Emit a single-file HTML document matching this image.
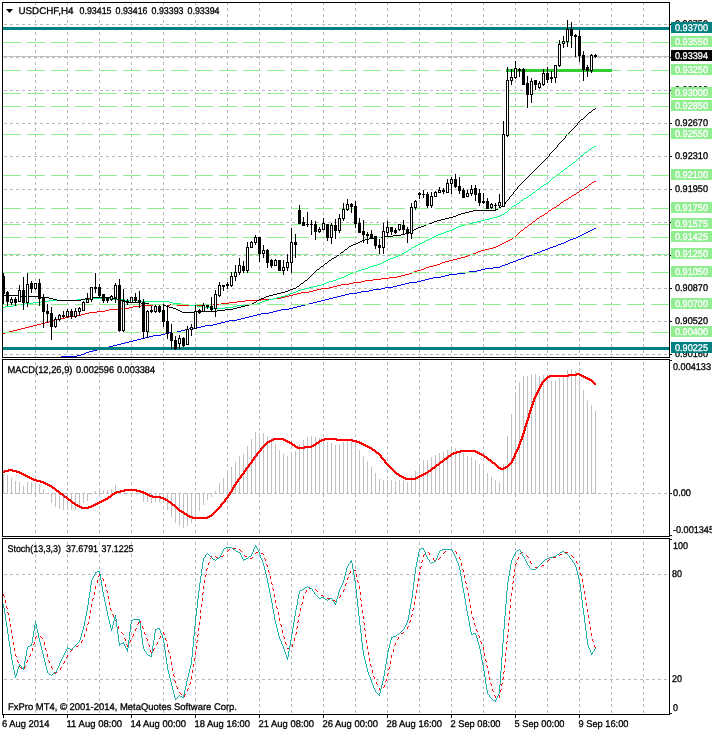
<!DOCTYPE html>
<html lang="en"><head><meta charset="utf-8"><title>USDCHF,H4</title>
<style>html,body{margin:0;padding:0;background:#fff}body{width:712px;height:732px;overflow:hidden}svg{display:block}text{font-family:"Liberation Sans",sans-serif;font-size:9.7px;white-space:pre;text-rendering:geometricPrecision;stroke-width:0.3px}</style>
</head><body>
<svg width="712" height="732" viewBox="0 0 712 732" shape-rendering="crispEdges">
<rect x="0" y="0" width="712" height="732" fill="#fff"/>
<g id="grid">
<path d="M35.5 3v2M35.5 8v3M35.5 14v3M35.5 20v3M35.5 26v3M35.5 32v3M35.5 38v3M35.5 44v3M35.5 50v3M35.5 56v3M35.5 62v3M35.5 68v3M35.5 74v3M35.5 80v3M35.5 86v3M35.5 92v3M35.5 98v3M35.5 104v3M35.5 110v3M35.5 116v3M35.5 122v3M35.5 128v3M35.5 134v3M35.5 140v3M35.5 146v3M35.5 152v3M35.5 158v3M35.5 164v3M35.5 170v3M35.5 176v3M35.5 182v3M35.5 188v3M35.5 194v3M35.5 200v3M35.5 206v3M35.5 212v3M35.5 218v3M35.5 224v3M35.5 230v3M35.5 236v3M35.5 242v3M35.5 248v3M35.5 254v3M35.5 260v3M35.5 266v3M35.5 272v3M35.5 278v3M35.5 284v3M35.5 290v3M35.5 296v3M35.5 302v3M35.5 308v3M35.5 314v3M35.5 320v3M35.5 326v3M35.5 332v3M35.5 338v3M35.5 344v3M35.5 350v3M35.5 356v1" stroke="#b8b8b8" stroke-width="1" fill="none"/>
<path d="M67.5 3v2M67.5 8v3M67.5 14v3M67.5 20v3M67.5 26v3M67.5 32v3M67.5 38v3M67.5 44v3M67.5 50v3M67.5 56v3M67.5 62v3M67.5 68v3M67.5 74v3M67.5 80v3M67.5 86v3M67.5 92v3M67.5 98v3M67.5 104v3M67.5 110v3M67.5 116v3M67.5 122v3M67.5 128v3M67.5 134v3M67.5 140v3M67.5 146v3M67.5 152v3M67.5 158v3M67.5 164v3M67.5 170v3M67.5 176v3M67.5 182v3M67.5 188v3M67.5 194v3M67.5 200v3M67.5 206v3M67.5 212v3M67.5 218v3M67.5 224v3M67.5 230v3M67.5 236v3M67.5 242v3M67.5 248v3M67.5 254v3M67.5 260v3M67.5 266v3M67.5 272v3M67.5 278v3M67.5 284v3M67.5 290v3M67.5 296v3M67.5 302v3M67.5 308v3M67.5 314v3M67.5 320v3M67.5 326v3M67.5 332v3M67.5 338v3M67.5 344v3M67.5 350v3M67.5 356v1" stroke="#b8b8b8" stroke-width="1" fill="none"/>
<path d="M99.5 3v2M99.5 8v3M99.5 14v3M99.5 20v3M99.5 26v3M99.5 32v3M99.5 38v3M99.5 44v3M99.5 50v3M99.5 56v3M99.5 62v3M99.5 68v3M99.5 74v3M99.5 80v3M99.5 86v3M99.5 92v3M99.5 98v3M99.5 104v3M99.5 110v3M99.5 116v3M99.5 122v3M99.5 128v3M99.5 134v3M99.5 140v3M99.5 146v3M99.5 152v3M99.5 158v3M99.5 164v3M99.5 170v3M99.5 176v3M99.5 182v3M99.5 188v3M99.5 194v3M99.5 200v3M99.5 206v3M99.5 212v3M99.5 218v3M99.5 224v3M99.5 230v3M99.5 236v3M99.5 242v3M99.5 248v3M99.5 254v3M99.5 260v3M99.5 266v3M99.5 272v3M99.5 278v3M99.5 284v3M99.5 290v3M99.5 296v3M99.5 302v3M99.5 308v3M99.5 314v3M99.5 320v3M99.5 326v3M99.5 332v3M99.5 338v3M99.5 344v3M99.5 350v3M99.5 356v1" stroke="#b8b8b8" stroke-width="1" fill="none"/>
<path d="M131.5 3v2M131.5 8v3M131.5 14v3M131.5 20v3M131.5 26v3M131.5 32v3M131.5 38v3M131.5 44v3M131.5 50v3M131.5 56v3M131.5 62v3M131.5 68v3M131.5 74v3M131.5 80v3M131.5 86v3M131.5 92v3M131.5 98v3M131.5 104v3M131.5 110v3M131.5 116v3M131.5 122v3M131.5 128v3M131.5 134v3M131.5 140v3M131.5 146v3M131.5 152v3M131.5 158v3M131.5 164v3M131.5 170v3M131.5 176v3M131.5 182v3M131.5 188v3M131.5 194v3M131.5 200v3M131.5 206v3M131.5 212v3M131.5 218v3M131.5 224v3M131.5 230v3M131.5 236v3M131.5 242v3M131.5 248v3M131.5 254v3M131.5 260v3M131.5 266v3M131.5 272v3M131.5 278v3M131.5 284v3M131.5 290v3M131.5 296v3M131.5 302v3M131.5 308v3M131.5 314v3M131.5 320v3M131.5 326v3M131.5 332v3M131.5 338v3M131.5 344v3M131.5 350v3M131.5 356v1" stroke="#b8b8b8" stroke-width="1" fill="none"/>
<path d="M163.5 3v2M163.5 8v3M163.5 14v3M163.5 20v3M163.5 26v3M163.5 32v3M163.5 38v3M163.5 44v3M163.5 50v3M163.5 56v3M163.5 62v3M163.5 68v3M163.5 74v3M163.5 80v3M163.5 86v3M163.5 92v3M163.5 98v3M163.5 104v3M163.5 110v3M163.5 116v3M163.5 122v3M163.5 128v3M163.5 134v3M163.5 140v3M163.5 146v3M163.5 152v3M163.5 158v3M163.5 164v3M163.5 170v3M163.5 176v3M163.5 182v3M163.5 188v3M163.5 194v3M163.5 200v3M163.5 206v3M163.5 212v3M163.5 218v3M163.5 224v3M163.5 230v3M163.5 236v3M163.5 242v3M163.5 248v3M163.5 254v3M163.5 260v3M163.5 266v3M163.5 272v3M163.5 278v3M163.5 284v3M163.5 290v3M163.5 296v3M163.5 302v3M163.5 308v3M163.5 314v3M163.5 320v3M163.5 326v3M163.5 332v3M163.5 338v3M163.5 344v3M163.5 350v3M163.5 356v1" stroke="#b8b8b8" stroke-width="1" fill="none"/>
<path d="M195.5 3v2M195.5 8v3M195.5 14v3M195.5 20v3M195.5 26v3M195.5 32v3M195.5 38v3M195.5 44v3M195.5 50v3M195.5 56v3M195.5 62v3M195.5 68v3M195.5 74v3M195.5 80v3M195.5 86v3M195.5 92v3M195.5 98v3M195.5 104v3M195.5 110v3M195.5 116v3M195.5 122v3M195.5 128v3M195.5 134v3M195.5 140v3M195.5 146v3M195.5 152v3M195.5 158v3M195.5 164v3M195.5 170v3M195.5 176v3M195.5 182v3M195.5 188v3M195.5 194v3M195.5 200v3M195.5 206v3M195.5 212v3M195.5 218v3M195.5 224v3M195.5 230v3M195.5 236v3M195.5 242v3M195.5 248v3M195.5 254v3M195.5 260v3M195.5 266v3M195.5 272v3M195.5 278v3M195.5 284v3M195.5 290v3M195.5 296v3M195.5 302v3M195.5 308v3M195.5 314v3M195.5 320v3M195.5 326v3M195.5 332v3M195.5 338v3M195.5 344v3M195.5 350v3M195.5 356v1" stroke="#b8b8b8" stroke-width="1" fill="none"/>
<path d="M227.5 3v2M227.5 8v3M227.5 14v3M227.5 20v3M227.5 26v3M227.5 32v3M227.5 38v3M227.5 44v3M227.5 50v3M227.5 56v3M227.5 62v3M227.5 68v3M227.5 74v3M227.5 80v3M227.5 86v3M227.5 92v3M227.5 98v3M227.5 104v3M227.5 110v3M227.5 116v3M227.5 122v3M227.5 128v3M227.5 134v3M227.5 140v3M227.5 146v3M227.5 152v3M227.5 158v3M227.5 164v3M227.5 170v3M227.5 176v3M227.5 182v3M227.5 188v3M227.5 194v3M227.5 200v3M227.5 206v3M227.5 212v3M227.5 218v3M227.5 224v3M227.5 230v3M227.5 236v3M227.5 242v3M227.5 248v3M227.5 254v3M227.5 260v3M227.5 266v3M227.5 272v3M227.5 278v3M227.5 284v3M227.5 290v3M227.5 296v3M227.5 302v3M227.5 308v3M227.5 314v3M227.5 320v3M227.5 326v3M227.5 332v3M227.5 338v3M227.5 344v3M227.5 350v3M227.5 356v1" stroke="#b8b8b8" stroke-width="1" fill="none"/>
<path d="M259.5 3v2M259.5 8v3M259.5 14v3M259.5 20v3M259.5 26v3M259.5 32v3M259.5 38v3M259.5 44v3M259.5 50v3M259.5 56v3M259.5 62v3M259.5 68v3M259.5 74v3M259.5 80v3M259.5 86v3M259.5 92v3M259.5 98v3M259.5 104v3M259.5 110v3M259.5 116v3M259.5 122v3M259.5 128v3M259.5 134v3M259.5 140v3M259.5 146v3M259.5 152v3M259.5 158v3M259.5 164v3M259.5 170v3M259.5 176v3M259.5 182v3M259.5 188v3M259.5 194v3M259.5 200v3M259.5 206v3M259.5 212v3M259.5 218v3M259.5 224v3M259.5 230v3M259.5 236v3M259.5 242v3M259.5 248v3M259.5 254v3M259.5 260v3M259.5 266v3M259.5 272v3M259.5 278v3M259.5 284v3M259.5 290v3M259.5 296v3M259.5 302v3M259.5 308v3M259.5 314v3M259.5 320v3M259.5 326v3M259.5 332v3M259.5 338v3M259.5 344v3M259.5 350v3M259.5 356v1" stroke="#b8b8b8" stroke-width="1" fill="none"/>
<path d="M291.5 3v2M291.5 8v3M291.5 14v3M291.5 20v3M291.5 26v3M291.5 32v3M291.5 38v3M291.5 44v3M291.5 50v3M291.5 56v3M291.5 62v3M291.5 68v3M291.5 74v3M291.5 80v3M291.5 86v3M291.5 92v3M291.5 98v3M291.5 104v3M291.5 110v3M291.5 116v3M291.5 122v3M291.5 128v3M291.5 134v3M291.5 140v3M291.5 146v3M291.5 152v3M291.5 158v3M291.5 164v3M291.5 170v3M291.5 176v3M291.5 182v3M291.5 188v3M291.5 194v3M291.5 200v3M291.5 206v3M291.5 212v3M291.5 218v3M291.5 224v3M291.5 230v3M291.5 236v3M291.5 242v3M291.5 248v3M291.5 254v3M291.5 260v3M291.5 266v3M291.5 272v3M291.5 278v3M291.5 284v3M291.5 290v3M291.5 296v3M291.5 302v3M291.5 308v3M291.5 314v3M291.5 320v3M291.5 326v3M291.5 332v3M291.5 338v3M291.5 344v3M291.5 350v3M291.5 356v1" stroke="#b8b8b8" stroke-width="1" fill="none"/>
<path d="M323.5 3v2M323.5 8v3M323.5 14v3M323.5 20v3M323.5 26v3M323.5 32v3M323.5 38v3M323.5 44v3M323.5 50v3M323.5 56v3M323.5 62v3M323.5 68v3M323.5 74v3M323.5 80v3M323.5 86v3M323.5 92v3M323.5 98v3M323.5 104v3M323.5 110v3M323.5 116v3M323.5 122v3M323.5 128v3M323.5 134v3M323.5 140v3M323.5 146v3M323.5 152v3M323.5 158v3M323.5 164v3M323.5 170v3M323.5 176v3M323.5 182v3M323.5 188v3M323.5 194v3M323.5 200v3M323.5 206v3M323.5 212v3M323.5 218v3M323.5 224v3M323.5 230v3M323.5 236v3M323.5 242v3M323.5 248v3M323.5 254v3M323.5 260v3M323.5 266v3M323.5 272v3M323.5 278v3M323.5 284v3M323.5 290v3M323.5 296v3M323.5 302v3M323.5 308v3M323.5 314v3M323.5 320v3M323.5 326v3M323.5 332v3M323.5 338v3M323.5 344v3M323.5 350v3M323.5 356v1" stroke="#b8b8b8" stroke-width="1" fill="none"/>
<path d="M355.5 3v2M355.5 8v3M355.5 14v3M355.5 20v3M355.5 26v3M355.5 32v3M355.5 38v3M355.5 44v3M355.5 50v3M355.5 56v3M355.5 62v3M355.5 68v3M355.5 74v3M355.5 80v3M355.5 86v3M355.5 92v3M355.5 98v3M355.5 104v3M355.5 110v3M355.5 116v3M355.5 122v3M355.5 128v3M355.5 134v3M355.5 140v3M355.5 146v3M355.5 152v3M355.5 158v3M355.5 164v3M355.5 170v3M355.5 176v3M355.5 182v3M355.5 188v3M355.5 194v3M355.5 200v3M355.5 206v3M355.5 212v3M355.5 218v3M355.5 224v3M355.5 230v3M355.5 236v3M355.5 242v3M355.5 248v3M355.5 254v3M355.5 260v3M355.5 266v3M355.5 272v3M355.5 278v3M355.5 284v3M355.5 290v3M355.5 296v3M355.5 302v3M355.5 308v3M355.5 314v3M355.5 320v3M355.5 326v3M355.5 332v3M355.5 338v3M355.5 344v3M355.5 350v3M355.5 356v1" stroke="#b8b8b8" stroke-width="1" fill="none"/>
<path d="M387.5 3v2M387.5 8v3M387.5 14v3M387.5 20v3M387.5 26v3M387.5 32v3M387.5 38v3M387.5 44v3M387.5 50v3M387.5 56v3M387.5 62v3M387.5 68v3M387.5 74v3M387.5 80v3M387.5 86v3M387.5 92v3M387.5 98v3M387.5 104v3M387.5 110v3M387.5 116v3M387.5 122v3M387.5 128v3M387.5 134v3M387.5 140v3M387.5 146v3M387.5 152v3M387.5 158v3M387.5 164v3M387.5 170v3M387.5 176v3M387.5 182v3M387.5 188v3M387.5 194v3M387.5 200v3M387.5 206v3M387.5 212v3M387.5 218v3M387.5 224v3M387.5 230v3M387.5 236v3M387.5 242v3M387.5 248v3M387.5 254v3M387.5 260v3M387.5 266v3M387.5 272v3M387.5 278v3M387.5 284v3M387.5 290v3M387.5 296v3M387.5 302v3M387.5 308v3M387.5 314v3M387.5 320v3M387.5 326v3M387.5 332v3M387.5 338v3M387.5 344v3M387.5 350v3M387.5 356v1" stroke="#b8b8b8" stroke-width="1" fill="none"/>
<path d="M419.5 3v2M419.5 8v3M419.5 14v3M419.5 20v3M419.5 26v3M419.5 32v3M419.5 38v3M419.5 44v3M419.5 50v3M419.5 56v3M419.5 62v3M419.5 68v3M419.5 74v3M419.5 80v3M419.5 86v3M419.5 92v3M419.5 98v3M419.5 104v3M419.5 110v3M419.5 116v3M419.5 122v3M419.5 128v3M419.5 134v3M419.5 140v3M419.5 146v3M419.5 152v3M419.5 158v3M419.5 164v3M419.5 170v3M419.5 176v3M419.5 182v3M419.5 188v3M419.5 194v3M419.5 200v3M419.5 206v3M419.5 212v3M419.5 218v3M419.5 224v3M419.5 230v3M419.5 236v3M419.5 242v3M419.5 248v3M419.5 254v3M419.5 260v3M419.5 266v3M419.5 272v3M419.5 278v3M419.5 284v3M419.5 290v3M419.5 296v3M419.5 302v3M419.5 308v3M419.5 314v3M419.5 320v3M419.5 326v3M419.5 332v3M419.5 338v3M419.5 344v3M419.5 350v3M419.5 356v1" stroke="#b8b8b8" stroke-width="1" fill="none"/>
<path d="M451.5 3v2M451.5 8v3M451.5 14v3M451.5 20v3M451.5 26v3M451.5 32v3M451.5 38v3M451.5 44v3M451.5 50v3M451.5 56v3M451.5 62v3M451.5 68v3M451.5 74v3M451.5 80v3M451.5 86v3M451.5 92v3M451.5 98v3M451.5 104v3M451.5 110v3M451.5 116v3M451.5 122v3M451.5 128v3M451.5 134v3M451.5 140v3M451.5 146v3M451.5 152v3M451.5 158v3M451.5 164v3M451.5 170v3M451.5 176v3M451.5 182v3M451.5 188v3M451.5 194v3M451.5 200v3M451.5 206v3M451.5 212v3M451.5 218v3M451.5 224v3M451.5 230v3M451.5 236v3M451.5 242v3M451.5 248v3M451.5 254v3M451.5 260v3M451.5 266v3M451.5 272v3M451.5 278v3M451.5 284v3M451.5 290v3M451.5 296v3M451.5 302v3M451.5 308v3M451.5 314v3M451.5 320v3M451.5 326v3M451.5 332v3M451.5 338v3M451.5 344v3M451.5 350v3M451.5 356v1" stroke="#b8b8b8" stroke-width="1" fill="none"/>
<path d="M483.5 3v2M483.5 8v3M483.5 14v3M483.5 20v3M483.5 26v3M483.5 32v3M483.5 38v3M483.5 44v3M483.5 50v3M483.5 56v3M483.5 62v3M483.5 68v3M483.5 74v3M483.5 80v3M483.5 86v3M483.5 92v3M483.5 98v3M483.5 104v3M483.5 110v3M483.5 116v3M483.5 122v3M483.5 128v3M483.5 134v3M483.5 140v3M483.5 146v3M483.5 152v3M483.5 158v3M483.5 164v3M483.5 170v3M483.5 176v3M483.5 182v3M483.5 188v3M483.5 194v3M483.5 200v3M483.5 206v3M483.5 212v3M483.5 218v3M483.5 224v3M483.5 230v3M483.5 236v3M483.5 242v3M483.5 248v3M483.5 254v3M483.5 260v3M483.5 266v3M483.5 272v3M483.5 278v3M483.5 284v3M483.5 290v3M483.5 296v3M483.5 302v3M483.5 308v3M483.5 314v3M483.5 320v3M483.5 326v3M483.5 332v3M483.5 338v3M483.5 344v3M483.5 350v3M483.5 356v1" stroke="#b8b8b8" stroke-width="1" fill="none"/>
<path d="M515.5 3v2M515.5 8v3M515.5 14v3M515.5 20v3M515.5 26v3M515.5 32v3M515.5 38v3M515.5 44v3M515.5 50v3M515.5 56v3M515.5 62v3M515.5 68v3M515.5 74v3M515.5 80v3M515.5 86v3M515.5 92v3M515.5 98v3M515.5 104v3M515.5 110v3M515.5 116v3M515.5 122v3M515.5 128v3M515.5 134v3M515.5 140v3M515.5 146v3M515.5 152v3M515.5 158v3M515.5 164v3M515.5 170v3M515.5 176v3M515.5 182v3M515.5 188v3M515.5 194v3M515.5 200v3M515.5 206v3M515.5 212v3M515.5 218v3M515.5 224v3M515.5 230v3M515.5 236v3M515.5 242v3M515.5 248v3M515.5 254v3M515.5 260v3M515.5 266v3M515.5 272v3M515.5 278v3M515.5 284v3M515.5 290v3M515.5 296v3M515.5 302v3M515.5 308v3M515.5 314v3M515.5 320v3M515.5 326v3M515.5 332v3M515.5 338v3M515.5 344v3M515.5 350v3M515.5 356v1" stroke="#b8b8b8" stroke-width="1" fill="none"/>
<path d="M547.5 3v2M547.5 8v3M547.5 14v3M547.5 20v3M547.5 26v3M547.5 32v3M547.5 38v3M547.5 44v3M547.5 50v3M547.5 56v3M547.5 62v3M547.5 68v3M547.5 74v3M547.5 80v3M547.5 86v3M547.5 92v3M547.5 98v3M547.5 104v3M547.5 110v3M547.5 116v3M547.5 122v3M547.5 128v3M547.5 134v3M547.5 140v3M547.5 146v3M547.5 152v3M547.5 158v3M547.5 164v3M547.5 170v3M547.5 176v3M547.5 182v3M547.5 188v3M547.5 194v3M547.5 200v3M547.5 206v3M547.5 212v3M547.5 218v3M547.5 224v3M547.5 230v3M547.5 236v3M547.5 242v3M547.5 248v3M547.5 254v3M547.5 260v3M547.5 266v3M547.5 272v3M547.5 278v3M547.5 284v3M547.5 290v3M547.5 296v3M547.5 302v3M547.5 308v3M547.5 314v3M547.5 320v3M547.5 326v3M547.5 332v3M547.5 338v3M547.5 344v3M547.5 350v3M547.5 356v1" stroke="#b8b8b8" stroke-width="1" fill="none"/>
<path d="M579.5 3v2M579.5 8v3M579.5 14v3M579.5 20v3M579.5 26v3M579.5 32v3M579.5 38v3M579.5 44v3M579.5 50v3M579.5 56v3M579.5 62v3M579.5 68v3M579.5 74v3M579.5 80v3M579.5 86v3M579.5 92v3M579.5 98v3M579.5 104v3M579.5 110v3M579.5 116v3M579.5 122v3M579.5 128v3M579.5 134v3M579.5 140v3M579.5 146v3M579.5 152v3M579.5 158v3M579.5 164v3M579.5 170v3M579.5 176v3M579.5 182v3M579.5 188v3M579.5 194v3M579.5 200v3M579.5 206v3M579.5 212v3M579.5 218v3M579.5 224v3M579.5 230v3M579.5 236v3M579.5 242v3M579.5 248v3M579.5 254v3M579.5 260v3M579.5 266v3M579.5 272v3M579.5 278v3M579.5 284v3M579.5 290v3M579.5 296v3M579.5 302v3M579.5 308v3M579.5 314v3M579.5 320v3M579.5 326v3M579.5 332v3M579.5 338v3M579.5 344v3M579.5 350v3M579.5 356v1" stroke="#b8b8b8" stroke-width="1" fill="none"/>
<path d="M611.5 3v2M611.5 8v3M611.5 14v3M611.5 20v3M611.5 26v3M611.5 32v3M611.5 38v3M611.5 44v3M611.5 50v3M611.5 56v3M611.5 62v3M611.5 68v3M611.5 74v3M611.5 80v3M611.5 86v3M611.5 92v3M611.5 98v3M611.5 104v3M611.5 110v3M611.5 116v3M611.5 122v3M611.5 128v3M611.5 134v3M611.5 140v3M611.5 146v3M611.5 152v3M611.5 158v3M611.5 164v3M611.5 170v3M611.5 176v3M611.5 182v3M611.5 188v3M611.5 194v3M611.5 200v3M611.5 206v3M611.5 212v3M611.5 218v3M611.5 224v3M611.5 230v3M611.5 236v3M611.5 242v3M611.5 248v3M611.5 254v3M611.5 260v3M611.5 266v3M611.5 272v3M611.5 278v3M611.5 284v3M611.5 290v3M611.5 296v3M611.5 302v3M611.5 308v3M611.5 314v3M611.5 320v3M611.5 326v3M611.5 332v3M611.5 338v3M611.5 344v3M611.5 350v3M611.5 356v1" stroke="#b8b8b8" stroke-width="1" fill="none"/>
<path d="M643.5 3v2M643.5 8v3M643.5 14v3M643.5 20v3M643.5 26v3M643.5 32v3M643.5 38v3M643.5 44v3M643.5 50v3M643.5 56v3M643.5 62v3M643.5 68v3M643.5 74v3M643.5 80v3M643.5 86v3M643.5 92v3M643.5 98v3M643.5 104v3M643.5 110v3M643.5 116v3M643.5 122v3M643.5 128v3M643.5 134v3M643.5 140v3M643.5 146v3M643.5 152v3M643.5 158v3M643.5 164v3M643.5 170v3M643.5 176v3M643.5 182v3M643.5 188v3M643.5 194v3M643.5 200v3M643.5 206v3M643.5 212v3M643.5 218v3M643.5 224v3M643.5 230v3M643.5 236v3M643.5 242v3M643.5 248v3M643.5 254v3M643.5 260v3M643.5 266v3M643.5 272v3M643.5 278v3M643.5 284v3M643.5 290v3M643.5 296v3M643.5 302v3M643.5 308v3M643.5 314v3M643.5 320v3M643.5 326v3M643.5 332v3M643.5 338v3M643.5 344v3M643.5 350v3M643.5 356v1" stroke="#b8b8b8" stroke-width="1" fill="none"/>
<path d="M35.5 362v3M35.5 368v3M35.5 374v3M35.5 380v3M35.5 386v3M35.5 392v3M35.5 398v3M35.5 404v3M35.5 410v3M35.5 416v3M35.5 422v3M35.5 428v3M35.5 434v3M35.5 440v3M35.5 446v3M35.5 452v3M35.5 458v3M35.5 464v3M35.5 470v3M35.5 476v3M35.5 482v3M35.5 488v3M35.5 494v3M35.5 500v3M35.5 506v3M35.5 512v3M35.5 518v3M35.5 524v3M35.5 530v3" stroke="#b8b8b8" stroke-width="1" fill="none"/>
<path d="M67.5 362v3M67.5 368v3M67.5 374v3M67.5 380v3M67.5 386v3M67.5 392v3M67.5 398v3M67.5 404v3M67.5 410v3M67.5 416v3M67.5 422v3M67.5 428v3M67.5 434v3M67.5 440v3M67.5 446v3M67.5 452v3M67.5 458v3M67.5 464v3M67.5 470v3M67.5 476v3M67.5 482v3M67.5 488v3M67.5 494v3M67.5 500v3M67.5 506v3M67.5 512v3M67.5 518v3M67.5 524v3M67.5 530v3" stroke="#b8b8b8" stroke-width="1" fill="none"/>
<path d="M99.5 362v3M99.5 368v3M99.5 374v3M99.5 380v3M99.5 386v3M99.5 392v3M99.5 398v3M99.5 404v3M99.5 410v3M99.5 416v3M99.5 422v3M99.5 428v3M99.5 434v3M99.5 440v3M99.5 446v3M99.5 452v3M99.5 458v3M99.5 464v3M99.5 470v3M99.5 476v3M99.5 482v3M99.5 488v3M99.5 494v3M99.5 500v3M99.5 506v3M99.5 512v3M99.5 518v3M99.5 524v3M99.5 530v3" stroke="#b8b8b8" stroke-width="1" fill="none"/>
<path d="M131.5 362v3M131.5 368v3M131.5 374v3M131.5 380v3M131.5 386v3M131.5 392v3M131.5 398v3M131.5 404v3M131.5 410v3M131.5 416v3M131.5 422v3M131.5 428v3M131.5 434v3M131.5 440v3M131.5 446v3M131.5 452v3M131.5 458v3M131.5 464v3M131.5 470v3M131.5 476v3M131.5 482v3M131.5 488v3M131.5 494v3M131.5 500v3M131.5 506v3M131.5 512v3M131.5 518v3M131.5 524v3M131.5 530v3" stroke="#b8b8b8" stroke-width="1" fill="none"/>
<path d="M163.5 362v3M163.5 368v3M163.5 374v3M163.5 380v3M163.5 386v3M163.5 392v3M163.5 398v3M163.5 404v3M163.5 410v3M163.5 416v3M163.5 422v3M163.5 428v3M163.5 434v3M163.5 440v3M163.5 446v3M163.5 452v3M163.5 458v3M163.5 464v3M163.5 470v3M163.5 476v3M163.5 482v3M163.5 488v3M163.5 494v3M163.5 500v3M163.5 506v3M163.5 512v3M163.5 518v3M163.5 524v3M163.5 530v3" stroke="#b8b8b8" stroke-width="1" fill="none"/>
<path d="M195.5 362v3M195.5 368v3M195.5 374v3M195.5 380v3M195.5 386v3M195.5 392v3M195.5 398v3M195.5 404v3M195.5 410v3M195.5 416v3M195.5 422v3M195.5 428v3M195.5 434v3M195.5 440v3M195.5 446v3M195.5 452v3M195.5 458v3M195.5 464v3M195.5 470v3M195.5 476v3M195.5 482v3M195.5 488v3M195.5 494v3M195.5 500v3M195.5 506v3M195.5 512v3M195.5 518v3M195.5 524v3M195.5 530v3" stroke="#b8b8b8" stroke-width="1" fill="none"/>
<path d="M227.5 362v3M227.5 368v3M227.5 374v3M227.5 380v3M227.5 386v3M227.5 392v3M227.5 398v3M227.5 404v3M227.5 410v3M227.5 416v3M227.5 422v3M227.5 428v3M227.5 434v3M227.5 440v3M227.5 446v3M227.5 452v3M227.5 458v3M227.5 464v3M227.5 470v3M227.5 476v3M227.5 482v3M227.5 488v3M227.5 494v3M227.5 500v3M227.5 506v3M227.5 512v3M227.5 518v3M227.5 524v3M227.5 530v3" stroke="#b8b8b8" stroke-width="1" fill="none"/>
<path d="M259.5 362v3M259.5 368v3M259.5 374v3M259.5 380v3M259.5 386v3M259.5 392v3M259.5 398v3M259.5 404v3M259.5 410v3M259.5 416v3M259.5 422v3M259.5 428v3M259.5 434v3M259.5 440v3M259.5 446v3M259.5 452v3M259.5 458v3M259.5 464v3M259.5 470v3M259.5 476v3M259.5 482v3M259.5 488v3M259.5 494v3M259.5 500v3M259.5 506v3M259.5 512v3M259.5 518v3M259.5 524v3M259.5 530v3" stroke="#b8b8b8" stroke-width="1" fill="none"/>
<path d="M291.5 362v3M291.5 368v3M291.5 374v3M291.5 380v3M291.5 386v3M291.5 392v3M291.5 398v3M291.5 404v3M291.5 410v3M291.5 416v3M291.5 422v3M291.5 428v3M291.5 434v3M291.5 440v3M291.5 446v3M291.5 452v3M291.5 458v3M291.5 464v3M291.5 470v3M291.5 476v3M291.5 482v3M291.5 488v3M291.5 494v3M291.5 500v3M291.5 506v3M291.5 512v3M291.5 518v3M291.5 524v3M291.5 530v3" stroke="#b8b8b8" stroke-width="1" fill="none"/>
<path d="M323.5 362v3M323.5 368v3M323.5 374v3M323.5 380v3M323.5 386v3M323.5 392v3M323.5 398v3M323.5 404v3M323.5 410v3M323.5 416v3M323.5 422v3M323.5 428v3M323.5 434v3M323.5 440v3M323.5 446v3M323.5 452v3M323.5 458v3M323.5 464v3M323.5 470v3M323.5 476v3M323.5 482v3M323.5 488v3M323.5 494v3M323.5 500v3M323.5 506v3M323.5 512v3M323.5 518v3M323.5 524v3M323.5 530v3" stroke="#b8b8b8" stroke-width="1" fill="none"/>
<path d="M355.5 362v3M355.5 368v3M355.5 374v3M355.5 380v3M355.5 386v3M355.5 392v3M355.5 398v3M355.5 404v3M355.5 410v3M355.5 416v3M355.5 422v3M355.5 428v3M355.5 434v3M355.5 440v3M355.5 446v3M355.5 452v3M355.5 458v3M355.5 464v3M355.5 470v3M355.5 476v3M355.5 482v3M355.5 488v3M355.5 494v3M355.5 500v3M355.5 506v3M355.5 512v3M355.5 518v3M355.5 524v3M355.5 530v3" stroke="#b8b8b8" stroke-width="1" fill="none"/>
<path d="M387.5 362v3M387.5 368v3M387.5 374v3M387.5 380v3M387.5 386v3M387.5 392v3M387.5 398v3M387.5 404v3M387.5 410v3M387.5 416v3M387.5 422v3M387.5 428v3M387.5 434v3M387.5 440v3M387.5 446v3M387.5 452v3M387.5 458v3M387.5 464v3M387.5 470v3M387.5 476v3M387.5 482v3M387.5 488v3M387.5 494v3M387.5 500v3M387.5 506v3M387.5 512v3M387.5 518v3M387.5 524v3M387.5 530v3" stroke="#b8b8b8" stroke-width="1" fill="none"/>
<path d="M419.5 362v3M419.5 368v3M419.5 374v3M419.5 380v3M419.5 386v3M419.5 392v3M419.5 398v3M419.5 404v3M419.5 410v3M419.5 416v3M419.5 422v3M419.5 428v3M419.5 434v3M419.5 440v3M419.5 446v3M419.5 452v3M419.5 458v3M419.5 464v3M419.5 470v3M419.5 476v3M419.5 482v3M419.5 488v3M419.5 494v3M419.5 500v3M419.5 506v3M419.5 512v3M419.5 518v3M419.5 524v3M419.5 530v3" stroke="#b8b8b8" stroke-width="1" fill="none"/>
<path d="M451.5 362v3M451.5 368v3M451.5 374v3M451.5 380v3M451.5 386v3M451.5 392v3M451.5 398v3M451.5 404v3M451.5 410v3M451.5 416v3M451.5 422v3M451.5 428v3M451.5 434v3M451.5 440v3M451.5 446v3M451.5 452v3M451.5 458v3M451.5 464v3M451.5 470v3M451.5 476v3M451.5 482v3M451.5 488v3M451.5 494v3M451.5 500v3M451.5 506v3M451.5 512v3M451.5 518v3M451.5 524v3M451.5 530v3" stroke="#b8b8b8" stroke-width="1" fill="none"/>
<path d="M483.5 362v3M483.5 368v3M483.5 374v3M483.5 380v3M483.5 386v3M483.5 392v3M483.5 398v3M483.5 404v3M483.5 410v3M483.5 416v3M483.5 422v3M483.5 428v3M483.5 434v3M483.5 440v3M483.5 446v3M483.5 452v3M483.5 458v3M483.5 464v3M483.5 470v3M483.5 476v3M483.5 482v3M483.5 488v3M483.5 494v3M483.5 500v3M483.5 506v3M483.5 512v3M483.5 518v3M483.5 524v3M483.5 530v3" stroke="#b8b8b8" stroke-width="1" fill="none"/>
<path d="M515.5 362v3M515.5 368v3M515.5 374v3M515.5 380v3M515.5 386v3M515.5 392v3M515.5 398v3M515.5 404v3M515.5 410v3M515.5 416v3M515.5 422v3M515.5 428v3M515.5 434v3M515.5 440v3M515.5 446v3M515.5 452v3M515.5 458v3M515.5 464v3M515.5 470v3M515.5 476v3M515.5 482v3M515.5 488v3M515.5 494v3M515.5 500v3M515.5 506v3M515.5 512v3M515.5 518v3M515.5 524v3M515.5 530v3" stroke="#b8b8b8" stroke-width="1" fill="none"/>
<path d="M547.5 362v3M547.5 368v3M547.5 374v3M547.5 380v3M547.5 386v3M547.5 392v3M547.5 398v3M547.5 404v3M547.5 410v3M547.5 416v3M547.5 422v3M547.5 428v3M547.5 434v3M547.5 440v3M547.5 446v3M547.5 452v3M547.5 458v3M547.5 464v3M547.5 470v3M547.5 476v3M547.5 482v3M547.5 488v3M547.5 494v3M547.5 500v3M547.5 506v3M547.5 512v3M547.5 518v3M547.5 524v3M547.5 530v3" stroke="#b8b8b8" stroke-width="1" fill="none"/>
<path d="M579.5 362v3M579.5 368v3M579.5 374v3M579.5 380v3M579.5 386v3M579.5 392v3M579.5 398v3M579.5 404v3M579.5 410v3M579.5 416v3M579.5 422v3M579.5 428v3M579.5 434v3M579.5 440v3M579.5 446v3M579.5 452v3M579.5 458v3M579.5 464v3M579.5 470v3M579.5 476v3M579.5 482v3M579.5 488v3M579.5 494v3M579.5 500v3M579.5 506v3M579.5 512v3M579.5 518v3M579.5 524v3M579.5 530v3" stroke="#b8b8b8" stroke-width="1" fill="none"/>
<path d="M611.5 362v3M611.5 368v3M611.5 374v3M611.5 380v3M611.5 386v3M611.5 392v3M611.5 398v3M611.5 404v3M611.5 410v3M611.5 416v3M611.5 422v3M611.5 428v3M611.5 434v3M611.5 440v3M611.5 446v3M611.5 452v3M611.5 458v3M611.5 464v3M611.5 470v3M611.5 476v3M611.5 482v3M611.5 488v3M611.5 494v3M611.5 500v3M611.5 506v3M611.5 512v3M611.5 518v3M611.5 524v3M611.5 530v3" stroke="#b8b8b8" stroke-width="1" fill="none"/>
<path d="M643.5 362v3M643.5 368v3M643.5 374v3M643.5 380v3M643.5 386v3M643.5 392v3M643.5 398v3M643.5 404v3M643.5 410v3M643.5 416v3M643.5 422v3M643.5 428v3M643.5 434v3M643.5 440v3M643.5 446v3M643.5 452v3M643.5 458v3M643.5 464v3M643.5 470v3M643.5 476v3M643.5 482v3M643.5 488v3M643.5 494v3M643.5 500v3M643.5 506v3M643.5 512v3M643.5 518v3M643.5 524v3M643.5 530v3" stroke="#b8b8b8" stroke-width="1" fill="none"/>
<path d="M35.5 542v3M35.5 548v3M35.5 554v3M35.5 560v3M35.5 566v3M35.5 572v3M35.5 578v3M35.5 584v3M35.5 590v3M35.5 596v3M35.5 602v3M35.5 608v3M35.5 614v3M35.5 620v3M35.5 626v3M35.5 632v3M35.5 638v3M35.5 644v3M35.5 650v3M35.5 656v3M35.5 662v3M35.5 668v3M35.5 674v3M35.5 680v3M35.5 686v3M35.5 692v3M35.5 698v3M35.5 704v3M35.5 710v3" stroke="#b8b8b8" stroke-width="1" fill="none"/>
<path d="M67.5 542v3M67.5 548v3M67.5 554v3M67.5 560v3M67.5 566v3M67.5 572v3M67.5 578v3M67.5 584v3M67.5 590v3M67.5 596v3M67.5 602v3M67.5 608v3M67.5 614v3M67.5 620v3M67.5 626v3M67.5 632v3M67.5 638v3M67.5 644v3M67.5 650v3M67.5 656v3M67.5 662v3M67.5 668v3M67.5 674v3M67.5 680v3M67.5 686v3M67.5 692v3M67.5 698v3M67.5 704v3M67.5 710v3" stroke="#b8b8b8" stroke-width="1" fill="none"/>
<path d="M99.5 542v3M99.5 548v3M99.5 554v3M99.5 560v3M99.5 566v3M99.5 572v3M99.5 578v3M99.5 584v3M99.5 590v3M99.5 596v3M99.5 602v3M99.5 608v3M99.5 614v3M99.5 620v3M99.5 626v3M99.5 632v3M99.5 638v3M99.5 644v3M99.5 650v3M99.5 656v3M99.5 662v3M99.5 668v3M99.5 674v3M99.5 680v3M99.5 686v3M99.5 692v3M99.5 698v3M99.5 704v3M99.5 710v3" stroke="#b8b8b8" stroke-width="1" fill="none"/>
<path d="M131.5 542v3M131.5 548v3M131.5 554v3M131.5 560v3M131.5 566v3M131.5 572v3M131.5 578v3M131.5 584v3M131.5 590v3M131.5 596v3M131.5 602v3M131.5 608v3M131.5 614v3M131.5 620v3M131.5 626v3M131.5 632v3M131.5 638v3M131.5 644v3M131.5 650v3M131.5 656v3M131.5 662v3M131.5 668v3M131.5 674v3M131.5 680v3M131.5 686v3M131.5 692v3M131.5 698v3M131.5 704v3M131.5 710v3" stroke="#b8b8b8" stroke-width="1" fill="none"/>
<path d="M163.5 542v3M163.5 548v3M163.5 554v3M163.5 560v3M163.5 566v3M163.5 572v3M163.5 578v3M163.5 584v3M163.5 590v3M163.5 596v3M163.5 602v3M163.5 608v3M163.5 614v3M163.5 620v3M163.5 626v3M163.5 632v3M163.5 638v3M163.5 644v3M163.5 650v3M163.5 656v3M163.5 662v3M163.5 668v3M163.5 674v3M163.5 680v3M163.5 686v3M163.5 692v3M163.5 698v3M163.5 704v3M163.5 710v3" stroke="#b8b8b8" stroke-width="1" fill="none"/>
<path d="M195.5 542v3M195.5 548v3M195.5 554v3M195.5 560v3M195.5 566v3M195.5 572v3M195.5 578v3M195.5 584v3M195.5 590v3M195.5 596v3M195.5 602v3M195.5 608v3M195.5 614v3M195.5 620v3M195.5 626v3M195.5 632v3M195.5 638v3M195.5 644v3M195.5 650v3M195.5 656v3M195.5 662v3M195.5 668v3M195.5 674v3M195.5 680v3M195.5 686v3M195.5 692v3M195.5 698v3M195.5 704v3M195.5 710v3" stroke="#b8b8b8" stroke-width="1" fill="none"/>
<path d="M227.5 542v3M227.5 548v3M227.5 554v3M227.5 560v3M227.5 566v3M227.5 572v3M227.5 578v3M227.5 584v3M227.5 590v3M227.5 596v3M227.5 602v3M227.5 608v3M227.5 614v3M227.5 620v3M227.5 626v3M227.5 632v3M227.5 638v3M227.5 644v3M227.5 650v3M227.5 656v3M227.5 662v3M227.5 668v3M227.5 674v3M227.5 680v3M227.5 686v3M227.5 692v3M227.5 698v3M227.5 704v3M227.5 710v3" stroke="#b8b8b8" stroke-width="1" fill="none"/>
<path d="M259.5 542v3M259.5 548v3M259.5 554v3M259.5 560v3M259.5 566v3M259.5 572v3M259.5 578v3M259.5 584v3M259.5 590v3M259.5 596v3M259.5 602v3M259.5 608v3M259.5 614v3M259.5 620v3M259.5 626v3M259.5 632v3M259.5 638v3M259.5 644v3M259.5 650v3M259.5 656v3M259.5 662v3M259.5 668v3M259.5 674v3M259.5 680v3M259.5 686v3M259.5 692v3M259.5 698v3M259.5 704v3M259.5 710v3" stroke="#b8b8b8" stroke-width="1" fill="none"/>
<path d="M291.5 542v3M291.5 548v3M291.5 554v3M291.5 560v3M291.5 566v3M291.5 572v3M291.5 578v3M291.5 584v3M291.5 590v3M291.5 596v3M291.5 602v3M291.5 608v3M291.5 614v3M291.5 620v3M291.5 626v3M291.5 632v3M291.5 638v3M291.5 644v3M291.5 650v3M291.5 656v3M291.5 662v3M291.5 668v3M291.5 674v3M291.5 680v3M291.5 686v3M291.5 692v3M291.5 698v3M291.5 704v3M291.5 710v3" stroke="#b8b8b8" stroke-width="1" fill="none"/>
<path d="M323.5 542v3M323.5 548v3M323.5 554v3M323.5 560v3M323.5 566v3M323.5 572v3M323.5 578v3M323.5 584v3M323.5 590v3M323.5 596v3M323.5 602v3M323.5 608v3M323.5 614v3M323.5 620v3M323.5 626v3M323.5 632v3M323.5 638v3M323.5 644v3M323.5 650v3M323.5 656v3M323.5 662v3M323.5 668v3M323.5 674v3M323.5 680v3M323.5 686v3M323.5 692v3M323.5 698v3M323.5 704v3M323.5 710v3" stroke="#b8b8b8" stroke-width="1" fill="none"/>
<path d="M355.5 542v3M355.5 548v3M355.5 554v3M355.5 560v3M355.5 566v3M355.5 572v3M355.5 578v3M355.5 584v3M355.5 590v3M355.5 596v3M355.5 602v3M355.5 608v3M355.5 614v3M355.5 620v3M355.5 626v3M355.5 632v3M355.5 638v3M355.5 644v3M355.5 650v3M355.5 656v3M355.5 662v3M355.5 668v3M355.5 674v3M355.5 680v3M355.5 686v3M355.5 692v3M355.5 698v3M355.5 704v3M355.5 710v3" stroke="#b8b8b8" stroke-width="1" fill="none"/>
<path d="M387.5 542v3M387.5 548v3M387.5 554v3M387.5 560v3M387.5 566v3M387.5 572v3M387.5 578v3M387.5 584v3M387.5 590v3M387.5 596v3M387.5 602v3M387.5 608v3M387.5 614v3M387.5 620v3M387.5 626v3M387.5 632v3M387.5 638v3M387.5 644v3M387.5 650v3M387.5 656v3M387.5 662v3M387.5 668v3M387.5 674v3M387.5 680v3M387.5 686v3M387.5 692v3M387.5 698v3M387.5 704v3M387.5 710v3" stroke="#b8b8b8" stroke-width="1" fill="none"/>
<path d="M419.5 542v3M419.5 548v3M419.5 554v3M419.5 560v3M419.5 566v3M419.5 572v3M419.5 578v3M419.5 584v3M419.5 590v3M419.5 596v3M419.5 602v3M419.5 608v3M419.5 614v3M419.5 620v3M419.5 626v3M419.5 632v3M419.5 638v3M419.5 644v3M419.5 650v3M419.5 656v3M419.5 662v3M419.5 668v3M419.5 674v3M419.5 680v3M419.5 686v3M419.5 692v3M419.5 698v3M419.5 704v3M419.5 710v3" stroke="#b8b8b8" stroke-width="1" fill="none"/>
<path d="M451.5 542v3M451.5 548v3M451.5 554v3M451.5 560v3M451.5 566v3M451.5 572v3M451.5 578v3M451.5 584v3M451.5 590v3M451.5 596v3M451.5 602v3M451.5 608v3M451.5 614v3M451.5 620v3M451.5 626v3M451.5 632v3M451.5 638v3M451.5 644v3M451.5 650v3M451.5 656v3M451.5 662v3M451.5 668v3M451.5 674v3M451.5 680v3M451.5 686v3M451.5 692v3M451.5 698v3M451.5 704v3M451.5 710v3" stroke="#b8b8b8" stroke-width="1" fill="none"/>
<path d="M483.5 542v3M483.5 548v3M483.5 554v3M483.5 560v3M483.5 566v3M483.5 572v3M483.5 578v3M483.5 584v3M483.5 590v3M483.5 596v3M483.5 602v3M483.5 608v3M483.5 614v3M483.5 620v3M483.5 626v3M483.5 632v3M483.5 638v3M483.5 644v3M483.5 650v3M483.5 656v3M483.5 662v3M483.5 668v3M483.5 674v3M483.5 680v3M483.5 686v3M483.5 692v3M483.5 698v3M483.5 704v3M483.5 710v3" stroke="#b8b8b8" stroke-width="1" fill="none"/>
<path d="M515.5 542v3M515.5 548v3M515.5 554v3M515.5 560v3M515.5 566v3M515.5 572v3M515.5 578v3M515.5 584v3M515.5 590v3M515.5 596v3M515.5 602v3M515.5 608v3M515.5 614v3M515.5 620v3M515.5 626v3M515.5 632v3M515.5 638v3M515.5 644v3M515.5 650v3M515.5 656v3M515.5 662v3M515.5 668v3M515.5 674v3M515.5 680v3M515.5 686v3M515.5 692v3M515.5 698v3M515.5 704v3M515.5 710v3" stroke="#b8b8b8" stroke-width="1" fill="none"/>
<path d="M547.5 542v3M547.5 548v3M547.5 554v3M547.5 560v3M547.5 566v3M547.5 572v3M547.5 578v3M547.5 584v3M547.5 590v3M547.5 596v3M547.5 602v3M547.5 608v3M547.5 614v3M547.5 620v3M547.5 626v3M547.5 632v3M547.5 638v3M547.5 644v3M547.5 650v3M547.5 656v3M547.5 662v3M547.5 668v3M547.5 674v3M547.5 680v3M547.5 686v3M547.5 692v3M547.5 698v3M547.5 704v3M547.5 710v3" stroke="#b8b8b8" stroke-width="1" fill="none"/>
<path d="M579.5 542v3M579.5 548v3M579.5 554v3M579.5 560v3M579.5 566v3M579.5 572v3M579.5 578v3M579.5 584v3M579.5 590v3M579.5 596v3M579.5 602v3M579.5 608v3M579.5 614v3M579.5 620v3M579.5 626v3M579.5 632v3M579.5 638v3M579.5 644v3M579.5 650v3M579.5 656v3M579.5 662v3M579.5 668v3M579.5 674v3M579.5 680v3M579.5 686v3M579.5 692v3M579.5 698v3M579.5 704v3M579.5 710v3" stroke="#b8b8b8" stroke-width="1" fill="none"/>
<path d="M611.5 542v3M611.5 548v3M611.5 554v3M611.5 560v3M611.5 566v3M611.5 572v3M611.5 578v3M611.5 584v3M611.5 590v3M611.5 596v3M611.5 602v3M611.5 608v3M611.5 614v3M611.5 620v3M611.5 626v3M611.5 632v3M611.5 638v3M611.5 644v3M611.5 650v3M611.5 656v3M611.5 662v3M611.5 668v3M611.5 674v3M611.5 680v3M611.5 686v3M611.5 692v3M611.5 698v3M611.5 704v3M611.5 710v3" stroke="#b8b8b8" stroke-width="1" fill="none"/>
<path d="M643.5 542v3M643.5 548v3M643.5 554v3M643.5 560v3M643.5 566v3M643.5 572v3M643.5 578v3M643.5 584v3M643.5 590v3M643.5 596v3M643.5 602v3M643.5 608v3M643.5 614v3M643.5 620v3M643.5 626v3M643.5 632v3M643.5 638v3M643.5 644v3M643.5 650v3M643.5 656v3M643.5 662v3M643.5 668v3M643.5 674v3M643.5 680v3M643.5 686v3M643.5 692v3M643.5 698v3M643.5 704v3M643.5 710v3" stroke="#b8b8b8" stroke-width="1" fill="none"/>
<path d="M4 24.5h3M10 24.5h3M16 24.5h3M22 24.5h3M28 24.5h3M34 24.5h3M40 24.5h3M46 24.5h3M52 24.5h3M58 24.5h3M64 24.5h3M70 24.5h3M76 24.5h3M82 24.5h3M88 24.5h3M94 24.5h3M100 24.5h3M106 24.5h3M112 24.5h3M118 24.5h3M124 24.5h3M130 24.5h3M136 24.5h3M142 24.5h3M148 24.5h3M154 24.5h3M160 24.5h3M166 24.5h3M172 24.5h3M178 24.5h3M184 24.5h3M190 24.5h3M196 24.5h3M202 24.5h3M208 24.5h3M214 24.5h3M220 24.5h3M226 24.5h3M232 24.5h3M238 24.5h3M244 24.5h3M250 24.5h3M256 24.5h3M262 24.5h3M268 24.5h3M274 24.5h3M280 24.5h3M286 24.5h3M292 24.5h3M298 24.5h3M304 24.5h3M310 24.5h3M316 24.5h3M322 24.5h3M328 24.5h3M334 24.5h3M340 24.5h3M346 24.5h3M352 24.5h3M358 24.5h3M364 24.5h3M370 24.5h3M376 24.5h3M382 24.5h3M388 24.5h3M394 24.5h3M400 24.5h3M406 24.5h3M412 24.5h3M418 24.5h3M424 24.5h3M430 24.5h3M436 24.5h3M442 24.5h3M448 24.5h3M454 24.5h3M460 24.5h3M466 24.5h3M472 24.5h3M478 24.5h3M484 24.5h3M490 24.5h3M496 24.5h3M502 24.5h3M508 24.5h3M514 24.5h3M520 24.5h3M526 24.5h3M532 24.5h3M538 24.5h3M544 24.5h3M550 24.5h3M556 24.5h3M562 24.5h3M568 24.5h3M574 24.5h3M580 24.5h3M586 24.5h3M592 24.5h3M598 24.5h3M604 24.5h3M610 24.5h3M616 24.5h3M622 24.5h3M628 24.5h3M634 24.5h3M640 24.5h3M646 24.5h3M652 24.5h3M658 24.5h3M664 24.5h3" stroke="#b8b8b8" stroke-width="1" fill="none"/>
<path d="M4 57.5h3M10 57.5h3M16 57.5h3M22 57.5h3M28 57.5h3M34 57.5h3M40 57.5h3M46 57.5h3M52 57.5h3M58 57.5h3M64 57.5h3M70 57.5h3M76 57.5h3M82 57.5h3M88 57.5h3M94 57.5h3M100 57.5h3M106 57.5h3M112 57.5h3M118 57.5h3M124 57.5h3M130 57.5h3M136 57.5h3M142 57.5h3M148 57.5h3M154 57.5h3M160 57.5h3M166 57.5h3M172 57.5h3M178 57.5h3M184 57.5h3M190 57.5h3M196 57.5h3M202 57.5h3M208 57.5h3M214 57.5h3M220 57.5h3M226 57.5h3M232 57.5h3M238 57.5h3M244 57.5h3M250 57.5h3M256 57.5h3M262 57.5h3M268 57.5h3M274 57.5h3M280 57.5h3M286 57.5h3M292 57.5h3M298 57.5h3M304 57.5h3M310 57.5h3M316 57.5h3M322 57.5h3M328 57.5h3M334 57.5h3M340 57.5h3M346 57.5h3M352 57.5h3M358 57.5h3M364 57.5h3M370 57.5h3M376 57.5h3M382 57.5h3M388 57.5h3M394 57.5h3M400 57.5h3M406 57.5h3M412 57.5h3M418 57.5h3M424 57.5h3M430 57.5h3M436 57.5h3M442 57.5h3M448 57.5h3M454 57.5h3M460 57.5h3M466 57.5h3M472 57.5h3M478 57.5h3M484 57.5h3M490 57.5h3M496 57.5h3M502 57.5h3M508 57.5h3M514 57.5h3M520 57.5h3M526 57.5h3M532 57.5h3M538 57.5h3M544 57.5h3M550 57.5h3M556 57.5h3M562 57.5h3M568 57.5h3M574 57.5h3M580 57.5h3M586 57.5h3M592 57.5h3M598 57.5h3M604 57.5h3M610 57.5h3M616 57.5h3M622 57.5h3M628 57.5h3M634 57.5h3M640 57.5h3M646 57.5h3M652 57.5h3M658 57.5h3M664 57.5h3" stroke="#b8b8b8" stroke-width="1" fill="none"/>
<path d="M4 90.5h3M10 90.5h3M16 90.5h3M22 90.5h3M28 90.5h3M34 90.5h3M40 90.5h3M46 90.5h3M52 90.5h3M58 90.5h3M64 90.5h3M70 90.5h3M76 90.5h3M82 90.5h3M88 90.5h3M94 90.5h3M100 90.5h3M106 90.5h3M112 90.5h3M118 90.5h3M124 90.5h3M130 90.5h3M136 90.5h3M142 90.5h3M148 90.5h3M154 90.5h3M160 90.5h3M166 90.5h3M172 90.5h3M178 90.5h3M184 90.5h3M190 90.5h3M196 90.5h3M202 90.5h3M208 90.5h3M214 90.5h3M220 90.5h3M226 90.5h3M232 90.5h3M238 90.5h3M244 90.5h3M250 90.5h3M256 90.5h3M262 90.5h3M268 90.5h3M274 90.5h3M280 90.5h3M286 90.5h3M292 90.5h3M298 90.5h3M304 90.5h3M310 90.5h3M316 90.5h3M322 90.5h3M328 90.5h3M334 90.5h3M340 90.5h3M346 90.5h3M352 90.5h3M358 90.5h3M364 90.5h3M370 90.5h3M376 90.5h3M382 90.5h3M388 90.5h3M394 90.5h3M400 90.5h3M406 90.5h3M412 90.5h3M418 90.5h3M424 90.5h3M430 90.5h3M436 90.5h3M442 90.5h3M448 90.5h3M454 90.5h3M460 90.5h3M466 90.5h3M472 90.5h3M478 90.5h3M484 90.5h3M490 90.5h3M496 90.5h3M502 90.5h3M508 90.5h3M514 90.5h3M520 90.5h3M526 90.5h3M532 90.5h3M538 90.5h3M544 90.5h3M550 90.5h3M556 90.5h3M562 90.5h3M568 90.5h3M574 90.5h3M580 90.5h3M586 90.5h3M592 90.5h3M598 90.5h3M604 90.5h3M610 90.5h3M616 90.5h3M622 90.5h3M628 90.5h3M634 90.5h3M640 90.5h3M646 90.5h3M652 90.5h3M658 90.5h3M664 90.5h3" stroke="#b8b8b8" stroke-width="1" fill="none"/>
<path d="M4 123.5h3M10 123.5h3M16 123.5h3M22 123.5h3M28 123.5h3M34 123.5h3M40 123.5h3M46 123.5h3M52 123.5h3M58 123.5h3M64 123.5h3M70 123.5h3M76 123.5h3M82 123.5h3M88 123.5h3M94 123.5h3M100 123.5h3M106 123.5h3M112 123.5h3M118 123.5h3M124 123.5h3M130 123.5h3M136 123.5h3M142 123.5h3M148 123.5h3M154 123.5h3M160 123.5h3M166 123.5h3M172 123.5h3M178 123.5h3M184 123.5h3M190 123.5h3M196 123.5h3M202 123.5h3M208 123.5h3M214 123.5h3M220 123.5h3M226 123.5h3M232 123.5h3M238 123.5h3M244 123.5h3M250 123.5h3M256 123.5h3M262 123.5h3M268 123.5h3M274 123.5h3M280 123.5h3M286 123.5h3M292 123.5h3M298 123.5h3M304 123.5h3M310 123.5h3M316 123.5h3M322 123.5h3M328 123.5h3M334 123.5h3M340 123.5h3M346 123.5h3M352 123.5h3M358 123.5h3M364 123.5h3M370 123.5h3M376 123.5h3M382 123.5h3M388 123.5h3M394 123.5h3M400 123.5h3M406 123.5h3M412 123.5h3M418 123.5h3M424 123.5h3M430 123.5h3M436 123.5h3M442 123.5h3M448 123.5h3M454 123.5h3M460 123.5h3M466 123.5h3M472 123.5h3M478 123.5h3M484 123.5h3M490 123.5h3M496 123.5h3M502 123.5h3M508 123.5h3M514 123.5h3M520 123.5h3M526 123.5h3M532 123.5h3M538 123.5h3M544 123.5h3M550 123.5h3M556 123.5h3M562 123.5h3M568 123.5h3M574 123.5h3M580 123.5h3M586 123.5h3M592 123.5h3M598 123.5h3M604 123.5h3M610 123.5h3M616 123.5h3M622 123.5h3M628 123.5h3M634 123.5h3M640 123.5h3M646 123.5h3M652 123.5h3M658 123.5h3M664 123.5h3" stroke="#b8b8b8" stroke-width="1" fill="none"/>
<path d="M4 156.5h3M10 156.5h3M16 156.5h3M22 156.5h3M28 156.5h3M34 156.5h3M40 156.5h3M46 156.5h3M52 156.5h3M58 156.5h3M64 156.5h3M70 156.5h3M76 156.5h3M82 156.5h3M88 156.5h3M94 156.5h3M100 156.5h3M106 156.5h3M112 156.5h3M118 156.5h3M124 156.5h3M130 156.5h3M136 156.5h3M142 156.5h3M148 156.5h3M154 156.5h3M160 156.5h3M166 156.5h3M172 156.5h3M178 156.5h3M184 156.5h3M190 156.5h3M196 156.5h3M202 156.5h3M208 156.5h3M214 156.5h3M220 156.5h3M226 156.5h3M232 156.5h3M238 156.5h3M244 156.5h3M250 156.5h3M256 156.5h3M262 156.5h3M268 156.5h3M274 156.5h3M280 156.5h3M286 156.5h3M292 156.5h3M298 156.5h3M304 156.5h3M310 156.5h3M316 156.5h3M322 156.5h3M328 156.5h3M334 156.5h3M340 156.5h3M346 156.5h3M352 156.5h3M358 156.5h3M364 156.5h3M370 156.5h3M376 156.5h3M382 156.5h3M388 156.5h3M394 156.5h3M400 156.5h3M406 156.5h3M412 156.5h3M418 156.5h3M424 156.5h3M430 156.5h3M436 156.5h3M442 156.5h3M448 156.5h3M454 156.5h3M460 156.5h3M466 156.5h3M472 156.5h3M478 156.5h3M484 156.5h3M490 156.5h3M496 156.5h3M502 156.5h3M508 156.5h3M514 156.5h3M520 156.5h3M526 156.5h3M532 156.5h3M538 156.5h3M544 156.5h3M550 156.5h3M556 156.5h3M562 156.5h3M568 156.5h3M574 156.5h3M580 156.5h3M586 156.5h3M592 156.5h3M598 156.5h3M604 156.5h3M610 156.5h3M616 156.5h3M622 156.5h3M628 156.5h3M634 156.5h3M640 156.5h3M646 156.5h3M652 156.5h3M658 156.5h3M664 156.5h3" stroke="#b8b8b8" stroke-width="1" fill="none"/>
<path d="M4 189.5h3M10 189.5h3M16 189.5h3M22 189.5h3M28 189.5h3M34 189.5h3M40 189.5h3M46 189.5h3M52 189.5h3M58 189.5h3M64 189.5h3M70 189.5h3M76 189.5h3M82 189.5h3M88 189.5h3M94 189.5h3M100 189.5h3M106 189.5h3M112 189.5h3M118 189.5h3M124 189.5h3M130 189.5h3M136 189.5h3M142 189.5h3M148 189.5h3M154 189.5h3M160 189.5h3M166 189.5h3M172 189.5h3M178 189.5h3M184 189.5h3M190 189.5h3M196 189.5h3M202 189.5h3M208 189.5h3M214 189.5h3M220 189.5h3M226 189.5h3M232 189.5h3M238 189.5h3M244 189.5h3M250 189.5h3M256 189.5h3M262 189.5h3M268 189.5h3M274 189.5h3M280 189.5h3M286 189.5h3M292 189.5h3M298 189.5h3M304 189.5h3M310 189.5h3M316 189.5h3M322 189.5h3M328 189.5h3M334 189.5h3M340 189.5h3M346 189.5h3M352 189.5h3M358 189.5h3M364 189.5h3M370 189.5h3M376 189.5h3M382 189.5h3M388 189.5h3M394 189.5h3M400 189.5h3M406 189.5h3M412 189.5h3M418 189.5h3M424 189.5h3M430 189.5h3M436 189.5h3M442 189.5h3M448 189.5h3M454 189.5h3M460 189.5h3M466 189.5h3M472 189.5h3M478 189.5h3M484 189.5h3M490 189.5h3M496 189.5h3M502 189.5h3M508 189.5h3M514 189.5h3M520 189.5h3M526 189.5h3M532 189.5h3M538 189.5h3M544 189.5h3M550 189.5h3M556 189.5h3M562 189.5h3M568 189.5h3M574 189.5h3M580 189.5h3M586 189.5h3M592 189.5h3M598 189.5h3M604 189.5h3M610 189.5h3M616 189.5h3M622 189.5h3M628 189.5h3M634 189.5h3M640 189.5h3M646 189.5h3M652 189.5h3M658 189.5h3M664 189.5h3" stroke="#b8b8b8" stroke-width="1" fill="none"/>
<path d="M4 222.5h3M10 222.5h3M16 222.5h3M22 222.5h3M28 222.5h3M34 222.5h3M40 222.5h3M46 222.5h3M52 222.5h3M58 222.5h3M64 222.5h3M70 222.5h3M76 222.5h3M82 222.5h3M88 222.5h3M94 222.5h3M100 222.5h3M106 222.5h3M112 222.5h3M118 222.5h3M124 222.5h3M130 222.5h3M136 222.5h3M142 222.5h3M148 222.5h3M154 222.5h3M160 222.5h3M166 222.5h3M172 222.5h3M178 222.5h3M184 222.5h3M190 222.5h3M196 222.5h3M202 222.5h3M208 222.5h3M214 222.5h3M220 222.5h3M226 222.5h3M232 222.5h3M238 222.5h3M244 222.5h3M250 222.5h3M256 222.5h3M262 222.5h3M268 222.5h3M274 222.5h3M280 222.5h3M286 222.5h3M292 222.5h3M298 222.5h3M304 222.5h3M310 222.5h3M316 222.5h3M322 222.5h3M328 222.5h3M334 222.5h3M340 222.5h3M346 222.5h3M352 222.5h3M358 222.5h3M364 222.5h3M370 222.5h3M376 222.5h3M382 222.5h3M388 222.5h3M394 222.5h3M400 222.5h3M406 222.5h3M412 222.5h3M418 222.5h3M424 222.5h3M430 222.5h3M436 222.5h3M442 222.5h3M448 222.5h3M454 222.5h3M460 222.5h3M466 222.5h3M472 222.5h3M478 222.5h3M484 222.5h3M490 222.5h3M496 222.5h3M502 222.5h3M508 222.5h3M514 222.5h3M520 222.5h3M526 222.5h3M532 222.5h3M538 222.5h3M544 222.5h3M550 222.5h3M556 222.5h3M562 222.5h3M568 222.5h3M574 222.5h3M580 222.5h3M586 222.5h3M592 222.5h3M598 222.5h3M604 222.5h3M610 222.5h3M616 222.5h3M622 222.5h3M628 222.5h3M634 222.5h3M640 222.5h3M646 222.5h3M652 222.5h3M658 222.5h3M664 222.5h3" stroke="#b8b8b8" stroke-width="1" fill="none"/>
<path d="M4 255.5h3M10 255.5h3M16 255.5h3M22 255.5h3M28 255.5h3M34 255.5h3M40 255.5h3M46 255.5h3M52 255.5h3M58 255.5h3M64 255.5h3M70 255.5h3M76 255.5h3M82 255.5h3M88 255.5h3M94 255.5h3M100 255.5h3M106 255.5h3M112 255.5h3M118 255.5h3M124 255.5h3M130 255.5h3M136 255.5h3M142 255.5h3M148 255.5h3M154 255.5h3M160 255.5h3M166 255.5h3M172 255.5h3M178 255.5h3M184 255.5h3M190 255.5h3M196 255.5h3M202 255.5h3M208 255.5h3M214 255.5h3M220 255.5h3M226 255.5h3M232 255.5h3M238 255.5h3M244 255.5h3M250 255.5h3M256 255.5h3M262 255.5h3M268 255.5h3M274 255.5h3M280 255.5h3M286 255.5h3M292 255.5h3M298 255.5h3M304 255.5h3M310 255.5h3M316 255.5h3M322 255.5h3M328 255.5h3M334 255.5h3M340 255.5h3M346 255.5h3M352 255.5h3M358 255.5h3M364 255.5h3M370 255.5h3M376 255.5h3M382 255.5h3M388 255.5h3M394 255.5h3M400 255.5h3M406 255.5h3M412 255.5h3M418 255.5h3M424 255.5h3M430 255.5h3M436 255.5h3M442 255.5h3M448 255.5h3M454 255.5h3M460 255.5h3M466 255.5h3M472 255.5h3M478 255.5h3M484 255.5h3M490 255.5h3M496 255.5h3M502 255.5h3M508 255.5h3M514 255.5h3M520 255.5h3M526 255.5h3M532 255.5h3M538 255.5h3M544 255.5h3M550 255.5h3M556 255.5h3M562 255.5h3M568 255.5h3M574 255.5h3M580 255.5h3M586 255.5h3M592 255.5h3M598 255.5h3M604 255.5h3M610 255.5h3M616 255.5h3M622 255.5h3M628 255.5h3M634 255.5h3M640 255.5h3M646 255.5h3M652 255.5h3M658 255.5h3M664 255.5h3" stroke="#b8b8b8" stroke-width="1" fill="none"/>
<path d="M4 288.5h3M10 288.5h3M16 288.5h3M22 288.5h3M28 288.5h3M34 288.5h3M40 288.5h3M46 288.5h3M52 288.5h3M58 288.5h3M64 288.5h3M70 288.5h3M76 288.5h3M82 288.5h3M88 288.5h3M94 288.5h3M100 288.5h3M106 288.5h3M112 288.5h3M118 288.5h3M124 288.5h3M130 288.5h3M136 288.5h3M142 288.5h3M148 288.5h3M154 288.5h3M160 288.5h3M166 288.5h3M172 288.5h3M178 288.5h3M184 288.5h3M190 288.5h3M196 288.5h3M202 288.5h3M208 288.5h3M214 288.5h3M220 288.5h3M226 288.5h3M232 288.5h3M238 288.5h3M244 288.5h3M250 288.5h3M256 288.5h3M262 288.5h3M268 288.5h3M274 288.5h3M280 288.5h3M286 288.5h3M292 288.5h3M298 288.5h3M304 288.5h3M310 288.5h3M316 288.5h3M322 288.5h3M328 288.5h3M334 288.5h3M340 288.5h3M346 288.5h3M352 288.5h3M358 288.5h3M364 288.5h3M370 288.5h3M376 288.5h3M382 288.5h3M388 288.5h3M394 288.5h3M400 288.5h3M406 288.5h3M412 288.5h3M418 288.5h3M424 288.5h3M430 288.5h3M436 288.5h3M442 288.5h3M448 288.5h3M454 288.5h3M460 288.5h3M466 288.5h3M472 288.5h3M478 288.5h3M484 288.5h3M490 288.5h3M496 288.5h3M502 288.5h3M508 288.5h3M514 288.5h3M520 288.5h3M526 288.5h3M532 288.5h3M538 288.5h3M544 288.5h3M550 288.5h3M556 288.5h3M562 288.5h3M568 288.5h3M574 288.5h3M580 288.5h3M586 288.5h3M592 288.5h3M598 288.5h3M604 288.5h3M610 288.5h3M616 288.5h3M622 288.5h3M628 288.5h3M634 288.5h3M640 288.5h3M646 288.5h3M652 288.5h3M658 288.5h3M664 288.5h3" stroke="#b8b8b8" stroke-width="1" fill="none"/>
<path d="M4 321.5h3M10 321.5h3M16 321.5h3M22 321.5h3M28 321.5h3M34 321.5h3M40 321.5h3M46 321.5h3M52 321.5h3M58 321.5h3M64 321.5h3M70 321.5h3M76 321.5h3M82 321.5h3M88 321.5h3M94 321.5h3M100 321.5h3M106 321.5h3M112 321.5h3M118 321.5h3M124 321.5h3M130 321.5h3M136 321.5h3M142 321.5h3M148 321.5h3M154 321.5h3M160 321.5h3M166 321.5h3M172 321.5h3M178 321.5h3M184 321.5h3M190 321.5h3M196 321.5h3M202 321.5h3M208 321.5h3M214 321.5h3M220 321.5h3M226 321.5h3M232 321.5h3M238 321.5h3M244 321.5h3M250 321.5h3M256 321.5h3M262 321.5h3M268 321.5h3M274 321.5h3M280 321.5h3M286 321.5h3M292 321.5h3M298 321.5h3M304 321.5h3M310 321.5h3M316 321.5h3M322 321.5h3M328 321.5h3M334 321.5h3M340 321.5h3M346 321.5h3M352 321.5h3M358 321.5h3M364 321.5h3M370 321.5h3M376 321.5h3M382 321.5h3M388 321.5h3M394 321.5h3M400 321.5h3M406 321.5h3M412 321.5h3M418 321.5h3M424 321.5h3M430 321.5h3M436 321.5h3M442 321.5h3M448 321.5h3M454 321.5h3M460 321.5h3M466 321.5h3M472 321.5h3M478 321.5h3M484 321.5h3M490 321.5h3M496 321.5h3M502 321.5h3M508 321.5h3M514 321.5h3M520 321.5h3M526 321.5h3M532 321.5h3M538 321.5h3M544 321.5h3M550 321.5h3M556 321.5h3M562 321.5h3M568 321.5h3M574 321.5h3M580 321.5h3M586 321.5h3M592 321.5h3M598 321.5h3M604 321.5h3M610 321.5h3M616 321.5h3M622 321.5h3M628 321.5h3M634 321.5h3M640 321.5h3M646 321.5h3M652 321.5h3M658 321.5h3M664 321.5h3" stroke="#b8b8b8" stroke-width="1" fill="none"/>
<path d="M4 354.5h3M10 354.5h3M16 354.5h3M22 354.5h3M28 354.5h3M34 354.5h3M40 354.5h3M46 354.5h3M52 354.5h3M58 354.5h3M64 354.5h3M70 354.5h3M76 354.5h3M82 354.5h3M88 354.5h3M94 354.5h3M100 354.5h3M106 354.5h3M112 354.5h3M118 354.5h3M124 354.5h3M130 354.5h3M136 354.5h3M142 354.5h3M148 354.5h3M154 354.5h3M160 354.5h3M166 354.5h3M172 354.5h3M178 354.5h3M184 354.5h3M190 354.5h3M196 354.5h3M202 354.5h3M208 354.5h3M214 354.5h3M220 354.5h3M226 354.5h3M232 354.5h3M238 354.5h3M244 354.5h3M250 354.5h3M256 354.5h3M262 354.5h3M268 354.5h3M274 354.5h3M280 354.5h3M286 354.5h3M292 354.5h3M298 354.5h3M304 354.5h3M310 354.5h3M316 354.5h3M322 354.5h3M328 354.5h3M334 354.5h3M340 354.5h3M346 354.5h3M352 354.5h3M358 354.5h3M364 354.5h3M370 354.5h3M376 354.5h3M382 354.5h3M388 354.5h3M394 354.5h3M400 354.5h3M406 354.5h3M412 354.5h3M418 354.5h3M424 354.5h3M430 354.5h3M436 354.5h3M442 354.5h3M448 354.5h3M454 354.5h3M460 354.5h3M466 354.5h3M472 354.5h3M478 354.5h3M484 354.5h3M490 354.5h3M496 354.5h3M502 354.5h3M508 354.5h3M514 354.5h3M520 354.5h3M526 354.5h3M532 354.5h3M538 354.5h3M544 354.5h3M550 354.5h3M556 354.5h3M562 354.5h3M568 354.5h3M574 354.5h3M580 354.5h3M586 354.5h3M592 354.5h3M598 354.5h3M604 354.5h3M610 354.5h3M616 354.5h3M622 354.5h3M628 354.5h3M634 354.5h3M640 354.5h3M646 354.5h3M652 354.5h3M658 354.5h3M664 354.5h3" stroke="#b8b8b8" stroke-width="1" fill="none"/>
<path d="M4 493.5h3M10 493.5h3M16 493.5h3M22 493.5h3M28 493.5h3M34 493.5h3M40 493.5h3M46 493.5h3M52 493.5h3M58 493.5h3M64 493.5h3M70 493.5h3M76 493.5h3M82 493.5h3M88 493.5h3M94 493.5h3M100 493.5h3M106 493.5h3M112 493.5h3M118 493.5h3M124 493.5h3M130 493.5h3M136 493.5h3M142 493.5h3M148 493.5h3M154 493.5h3M160 493.5h3M166 493.5h3M172 493.5h3M178 493.5h3M184 493.5h3M190 493.5h3M196 493.5h3M202 493.5h3M208 493.5h3M214 493.5h3M220 493.5h3M226 493.5h3M232 493.5h3M238 493.5h3M244 493.5h3M250 493.5h3M256 493.5h3M262 493.5h3M268 493.5h3M274 493.5h3M280 493.5h3M286 493.5h3M292 493.5h3M298 493.5h3M304 493.5h3M310 493.5h3M316 493.5h3M322 493.5h3M328 493.5h3M334 493.5h3M340 493.5h3M346 493.5h3M352 493.5h3M358 493.5h3M364 493.5h3M370 493.5h3M376 493.5h3M382 493.5h3M388 493.5h3M394 493.5h3M400 493.5h3M406 493.5h3M412 493.5h3M418 493.5h3M424 493.5h3M430 493.5h3M436 493.5h3M442 493.5h3M448 493.5h3M454 493.5h3M460 493.5h3M466 493.5h3M472 493.5h3M478 493.5h3M484 493.5h3M490 493.5h3M496 493.5h3M502 493.5h3M508 493.5h3M514 493.5h3M520 493.5h3M526 493.5h3M532 493.5h3M538 493.5h3M544 493.5h3M550 493.5h3M556 493.5h3M562 493.5h3M568 493.5h3M574 493.5h3M580 493.5h3M586 493.5h3M592 493.5h3M598 493.5h3M604 493.5h3M610 493.5h3M616 493.5h3M622 493.5h3M628 493.5h3M634 493.5h3M640 493.5h3M646 493.5h3M652 493.5h3M658 493.5h3M664 493.5h3" stroke="#b8b8b8" stroke-width="1" fill="none"/>
<path d="M4 574.5h3M10 574.5h3M16 574.5h3M22 574.5h3M28 574.5h3M34 574.5h3M40 574.5h3M46 574.5h3M52 574.5h3M58 574.5h3M64 574.5h3M70 574.5h3M76 574.5h3M82 574.5h3M88 574.5h3M94 574.5h3M100 574.5h3M106 574.5h3M112 574.5h3M118 574.5h3M124 574.5h3M130 574.5h3M136 574.5h3M142 574.5h3M148 574.5h3M154 574.5h3M160 574.5h3M166 574.5h3M172 574.5h3M178 574.5h3M184 574.5h3M190 574.5h3M196 574.5h3M202 574.5h3M208 574.5h3M214 574.5h3M220 574.5h3M226 574.5h3M232 574.5h3M238 574.5h3M244 574.5h3M250 574.5h3M256 574.5h3M262 574.5h3M268 574.5h3M274 574.5h3M280 574.5h3M286 574.5h3M292 574.5h3M298 574.5h3M304 574.5h3M310 574.5h3M316 574.5h3M322 574.5h3M328 574.5h3M334 574.5h3M340 574.5h3M346 574.5h3M352 574.5h3M358 574.5h3M364 574.5h3M370 574.5h3M376 574.5h3M382 574.5h3M388 574.5h3M394 574.5h3M400 574.5h3M406 574.5h3M412 574.5h3M418 574.5h3M424 574.5h3M430 574.5h3M436 574.5h3M442 574.5h3M448 574.5h3M454 574.5h3M460 574.5h3M466 574.5h3M472 574.5h3M478 574.5h3M484 574.5h3M490 574.5h3M496 574.5h3M502 574.5h3M508 574.5h3M514 574.5h3M520 574.5h3M526 574.5h3M532 574.5h3M538 574.5h3M544 574.5h3M550 574.5h3M556 574.5h3M562 574.5h3M568 574.5h3M574 574.5h3M580 574.5h3M586 574.5h3M592 574.5h3M598 574.5h3M604 574.5h3M610 574.5h3M616 574.5h3M622 574.5h3M628 574.5h3M634 574.5h3M640 574.5h3M646 574.5h3M652 574.5h3M658 574.5h3M664 574.5h3" stroke="#b8b8b8" stroke-width="1" fill="none"/>
<path d="M4 679.5h3M10 679.5h3M16 679.5h3M22 679.5h3M28 679.5h3M34 679.5h3M40 679.5h3M46 679.5h3M52 679.5h3M58 679.5h3M64 679.5h3M70 679.5h3M76 679.5h3M82 679.5h3M88 679.5h3M94 679.5h3M100 679.5h3M106 679.5h3M112 679.5h3M118 679.5h3M124 679.5h3M130 679.5h3M136 679.5h3M142 679.5h3M148 679.5h3M154 679.5h3M160 679.5h3M166 679.5h3M172 679.5h3M178 679.5h3M184 679.5h3M190 679.5h3M196 679.5h3M202 679.5h3M208 679.5h3M214 679.5h3M220 679.5h3M226 679.5h3M232 679.5h3M238 679.5h3M244 679.5h3M250 679.5h3M256 679.5h3M262 679.5h3M268 679.5h3M274 679.5h3M280 679.5h3M286 679.5h3M292 679.5h3M298 679.5h3M304 679.5h3M310 679.5h3M316 679.5h3M322 679.5h3M328 679.5h3M334 679.5h3M340 679.5h3M346 679.5h3M352 679.5h3M358 679.5h3M364 679.5h3M370 679.5h3M376 679.5h3M382 679.5h3M388 679.5h3M394 679.5h3M400 679.5h3M406 679.5h3M412 679.5h3M418 679.5h3M424 679.5h3M430 679.5h3M436 679.5h3M442 679.5h3M448 679.5h3M454 679.5h3M460 679.5h3M466 679.5h3M472 679.5h3M478 679.5h3M484 679.5h3M490 679.5h3M496 679.5h3M502 679.5h3M508 679.5h3M514 679.5h3M520 679.5h3M526 679.5h3M532 679.5h3M538 679.5h3M544 679.5h3M550 679.5h3M556 679.5h3M562 679.5h3M568 679.5h3M574 679.5h3M580 679.5h3M586 679.5h3M592 679.5h3M598 679.5h3M604 679.5h3M610 679.5h3M616 679.5h3M622 679.5h3M628 679.5h3M634 679.5h3M640 679.5h3M646 679.5h3M652 679.5h3M658 679.5h3M664 679.5h3" stroke="#b8b8b8" stroke-width="1" fill="none"/>
</g>
<clipPath id="c1"><rect x="3" y="3" width="666" height="354"/></clipPath>
<g id="ma">
<path d="M594 228.5h2M592 229.5h2M590 230.5h2M588 231.5h2M586 232.5h2M584 233.5h2M582 234.5h2M580 235.5h2M578 236.5h2M576 237.5h2M573 238.5h3M570 239.5h3M568 240.5h2M566 241.5h2M564 242.5h2M561 243.5h3M558 244.5h3M556 245.5h2M553 246.5h3M550 247.5h3M548 248.5h2M545 249.5h3M542 250.5h3M540 251.5h2M537 252.5h3M534 253.5h3M532 254.5h2M529 255.5h3M526 256.5h3M524 257.5h2M521 258.5h3M518 259.5h3M516 260.5h2M513 261.5h3M510 262.5h3M508 263.5h2M505 264.5h3M502 265.5h3M500 266.5h2M493 267.5h7M485 268.5h8M481 269.5h4M477 270.5h4M469 271.5h8M465 272.5h4M457 273.5h8M449 274.5h8M445 275.5h4M441 276.5h4M433 277.5h8M429 278.5h4M425 279.5h4M421 280.5h4M417 281.5h4M409 282.5h8M405 283.5h4M401 284.5h4M397 285.5h4M393 286.5h4M385 287.5h8M381 288.5h4M373 289.5h8M369 290.5h4M361 291.5h8M357 292.5h4M349 293.5h8M345 294.5h4M341 295.5h4M337 296.5h4M333 297.5h4M329 298.5h4M325 299.5h4M321 300.5h4M317 301.5h4M313 302.5h4M309 303.5h4M305 304.5h4M301 305.5h4M297 306.5h4M293 307.5h4M289 308.5h4M281 309.5h8M277 310.5h4M273 311.5h4M269 312.5h4M261 313.5h8M257 314.5h4M253 315.5h4M249 316.5h4M245 317.5h4M241 318.5h4M237 319.5h4M229 320.5h8M225 321.5h4M221 322.5h4M217 323.5h4M213 324.5h4M205 325.5h8M201 326.5h4M197 327.5h4M189 328.5h8M185 329.5h4M181 330.5h4M177 331.5h4M169 332.5h8M165 333.5h4M161 334.5h4M153 335.5h8M149 336.5h4M145 337.5h4M141 338.5h4M137 339.5h4M133 340.5h4M129 341.5h4M125 342.5h4M121 343.5h4M117 344.5h4M113 345.5h4M109 346.5h4M105 347.5h4M101 348.5h4M97 349.5h4M93 350.5h4M89 351.5h4M86 352.5h3M84 353.5h2M81 354.5h3M77 355.5h4M61 356.5h16" stroke="#0000ff" stroke-width="1" fill="none"/>
<path d="M594 181.5h2M592 182.5h2M591 183.5h1M589 184.5h2M588 185.5h1M587 186.5h1M585 187.5h2M584 188.5h1M582 189.5h2M580 190.5h2M579 191.5h1M577 192.5h2M576 193.5h1M574 194.5h2M572 195.5h2M571 196.5h1M569 197.5h2M568 198.5h1M566 199.5h2M564 200.5h2M563 201.5h1M561 202.5h2M560 203.5h1M559 204.5h1M557 205.5h2M556 206.5h1M554 207.5h2M552 208.5h2M551 209.5h1M549 210.5h2M548 211.5h1M547 212.5h1M545 213.5h2M544 214.5h1M542 215.5h2M540 216.5h2M539 217.5h1M537 218.5h2M536 219.5h1M535 220.5h1M533 221.5h2M532 222.5h1M531 223.5h1M529 224.5h2M528 225.5h1M527 226.5h1M525 227.5h2M524 228.5h1M523 229.5h1M521 230.5h2M520 231.5h1M519 232.5h1M518 233.5h1M517 234.5h1M516 235.5h1M515 236.5h1M513 237.5h2M512 238.5h1M510 239.5h2M508 240.5h2M506 241.5h2M504 242.5h2M502 243.5h2M500 244.5h2M498 245.5h2M496 246.5h2M493 247.5h3M489 248.5h4M485 249.5h4M481 250.5h4M478 251.5h3M476 252.5h2M473 253.5h3M470 254.5h3M468 255.5h2M465 256.5h3M461 257.5h4M457 258.5h4M453 259.5h4M449 260.5h4M445 261.5h4M442 262.5h3M440 263.5h2M437 264.5h3M433 265.5h4M429 266.5h4M426 267.5h3M424 268.5h2M421 269.5h3M417 270.5h4M414 271.5h3M412 272.5h2M409 273.5h3M405 274.5h4M401 275.5h4M397 276.5h4M389 277.5h8M381 278.5h8M373 279.5h8M365 280.5h8M361 281.5h4M353 282.5h8M349 283.5h4M341 284.5h8M337 285.5h4M333 286.5h4M329 287.5h4M321 288.5h8M317 289.5h4M313 290.5h4M309 291.5h4M301 292.5h8M297 293.5h4M293 294.5h4M289 295.5h4M285 296.5h4M281 297.5h4M273 298.5h8M261 299.5h12M245 300.5h16M237 301.5h8M229 302.5h8M221 303.5h8M153 304.5h11M170 304.5h7M205 304.5h16M141 305.5h12M164 305.5h2M168 305.5h2M177 305.5h28M133 306.5h8M166 306.5h2M129 307.5h4M121 308.5h8M109 309.5h12M105 310.5h4M97 311.5h8M89 312.5h8M85 313.5h4M81 314.5h4M77 315.5h4M69 316.5h8M65 317.5h4M61 318.5h4M57 319.5h4M53 320.5h4M49 321.5h4M45 322.5h4M41 323.5h4M37 324.5h4M33 325.5h4M29 326.5h4M25 327.5h4M21 328.5h4M17 329.5h4M13 330.5h4M9 331.5h4M5 332.5h4M3 333.5h2" stroke="#ff0000" stroke-width="1" fill="none"/>
<path d="M594 146.5h2M592 147.5h2M591 148.5h1M589 149.5h2M588 150.5h1M587 151.5h1M585 152.5h2M584 153.5h1M583 154.5h1M581 155.5h2M580 156.5h1M579 157.5h1M578 158.5h1M577 159.5h1M576 160.5h1M575 161.5h1M573 162.5h2M572 163.5h1M571 164.5h1M569 165.5h2M568 166.5h1M567 167.5h1M565 168.5h2M564 169.5h1M563 170.5h1M561 171.5h2M560 172.5h1M559 173.5h1M557 174.5h2M556 175.5h1M555 176.5h1M553 177.5h2M552 178.5h1M551 179.5h1M550 180.5h1M549 181.5h1M548 182.5h1M546 183.5h2M544 184.5h2M543 185.5h1M541 186.5h2M540 187.5h1M539 188.5h1M537 189.5h2M536 190.5h1M535 191.5h1M533 192.5h2M532 193.5h1M531 194.5h1M529 195.5h2M528 196.5h1M526 197.5h2M524 198.5h2M523 199.5h1M521 200.5h2M520 201.5h1M519 202.5h1M517 203.5h2M516 204.5h1M514 205.5h2M512 206.5h2M511 207.5h1M510 208.5h1M509 209.5h1M508 210.5h1M507 211.5h1M505 212.5h2M504 213.5h1M502 214.5h2M500 215.5h2M497 216.5h3M493 217.5h4M489 218.5h4M485 219.5h4M481 220.5h4M477 221.5h4M473 222.5h4M469 223.5h4M465 224.5h4M461 225.5h4M458 226.5h3M456 227.5h2M454 228.5h2M452 229.5h2M449 230.5h3M446 231.5h3M444 232.5h2M441 233.5h3M438 234.5h3M436 235.5h2M434 236.5h2M432 237.5h2M430 238.5h2M428 239.5h2M426 240.5h2M424 241.5h2M422 242.5h2M420 243.5h2M418 244.5h2M416 245.5h2M414 246.5h2M412 247.5h2M411 248.5h1M409 249.5h2M408 250.5h1M406 251.5h2M404 252.5h2M402 253.5h2M400 254.5h2M398 255.5h2M396 256.5h2M393 257.5h3M390 258.5h3M388 259.5h2M386 260.5h2M384 261.5h2M382 262.5h2M380 263.5h2M377 264.5h3M373 265.5h4M370 266.5h3M368 267.5h2M365 268.5h3M361 269.5h4M358 270.5h3M356 271.5h2M353 272.5h3M350 273.5h3M348 274.5h2M346 275.5h2M344 276.5h2M341 277.5h3M338 278.5h3M336 279.5h2M333 280.5h3M329 281.5h4M326 282.5h3M324 283.5h2M321 284.5h3M317 285.5h4M313 286.5h4M309 287.5h4M305 288.5h4M301 289.5h4M298 290.5h3M296 291.5h2M293 292.5h3M290 293.5h3M288 294.5h2M285 295.5h3M281 296.5h4M277 297.5h4M93 298.5h20M273 298.5h4M77 299.5h16M113 299.5h12M269 299.5h4M49 300.5h28M125 300.5h16M265 300.5h4M41 301.5h8M141 301.5h28M262 301.5h3M33 302.5h8M169 302.5h4M260 302.5h2M25 303.5h8M173 303.5h8M257 303.5h3M17 304.5h8M181 304.5h8M245 304.5h12M13 305.5h4M189 305.5h8M237 305.5h8M5 306.5h8M197 306.5h8M233 306.5h4M3 307.5h2M205 307.5h8M225 307.5h8M213 308.5h12" stroke="#00ff7f" stroke-width="1" fill="none"/>
<path d="M595 108.5h1M593 109.5h2M592 110.5h1M591 111.5h1M589 112.5h2M588 113.5h1M587 114.5h1M586 115.5h1M585 116.5h1M584 117.5h1M583 118.5h1M581 119.5h2M580 120.5h1M579 121.5h1M578 122.5h1M577 123.5h1M577 124.5h1M576 125.5h1M575 126.5h1M574 127.5h1M573 128.5h1M572 129.5h1M571 130.5h1M570 131.5h1M569 132.5h1M568 133.5h1M567 134.5h1M566 135.5h1M565 136.5h1M565 137.5h1M564 138.5h1M563 139.5h1M562 140.5h1M561 141.5h1M560 142.5h1M559 143.5h1M558 144.5h1M557 145.5h1M557 146.5h1M556 147.5h1M555 148.5h1M554 149.5h1M553 150.5h1M552 151.5h1M551 152.5h1M550 153.5h1M549 154.5h1M549 155.5h1M548 156.5h1M547 157.5h1M546 158.5h1M545 159.5h1M544 160.5h1M543 161.5h1M542 162.5h1M541 163.5h1M540 164.5h1M539 165.5h1M538 166.5h1M537 167.5h1M536 168.5h1M535 169.5h1M534 170.5h1M533 171.5h1M532 172.5h1M531 173.5h1M530 174.5h1M529 175.5h1M528 176.5h1M527 177.5h1M526 178.5h1M525 179.5h1M524 180.5h1M523 181.5h1M522 182.5h1M521 183.5h1M520 184.5h1M519 185.5h1M518 186.5h1M517 187.5h1M517 188.5h1M516 189.5h1M515 190.5h1M514 191.5h1M513 192.5h1M513 193.5h1M512 194.5h1M511 195.5h1M510 196.5h1M509 197.5h1M509 198.5h1M508 199.5h1M507 200.5h1M506 201.5h1M505 202.5h1M505 203.5h1M504 204.5h1M503 205.5h1M501 206.5h2M500 207.5h1M498 208.5h2M496 209.5h2M473 210.5h23M469 211.5h4M465 212.5h4M461 213.5h4M458 214.5h3M456 215.5h2M453 216.5h3M449 217.5h4M445 218.5h4M441 219.5h4M437 220.5h4M434 221.5h3M432 222.5h2M429 223.5h3M426 224.5h3M424 225.5h2M421 226.5h3M418 227.5h3M416 228.5h2M414 229.5h2M412 230.5h2M410 231.5h2M408 232.5h2M405 233.5h3M401 234.5h4M393 235.5h8M385 236.5h8M377 237.5h8M369 238.5h8M365 239.5h4M362 240.5h3M360 241.5h2M358 242.5h2M356 243.5h2M353 244.5h3M351 245.5h2M349 246.5h2M348 247.5h1M347 248.5h1M345 249.5h2M344 250.5h1M343 251.5h1M341 252.5h2M340 253.5h1M339 254.5h1M337 255.5h2M336 256.5h1M334 257.5h2M332 258.5h2M331 259.5h1M329 260.5h2M328 261.5h1M327 262.5h1M325 263.5h2M324 264.5h1M323 265.5h1M321 266.5h2M320 267.5h1M319 268.5h1M317 269.5h2M316 270.5h1M315 271.5h1M314 272.5h1M313 273.5h1M312 274.5h1M311 275.5h1M310 276.5h1M309 277.5h1M308 278.5h1M307 279.5h1M305 280.5h2M304 281.5h1M303 282.5h1M301 283.5h2M300 284.5h1M299 285.5h1M297 286.5h2M296 287.5h1M293 288.5h3M290 289.5h3M288 290.5h2M285 291.5h3M281 292.5h4M277 293.5h4M273 294.5h4M3 295.5h18M269 295.5h4M21 296.5h20M266 296.5h3M41 297.5h8M93 297.5h20M264 297.5h2M49 298.5h4M85 298.5h8M113 298.5h4M261 298.5h3M53 299.5h4M81 299.5h4M117 299.5h4M259 299.5h2M57 300.5h24M121 300.5h4M257 300.5h2M125 301.5h4M256 301.5h1M129 302.5h12M254 302.5h2M141 303.5h8M252 303.5h2M149 304.5h15M249 304.5h3M164 305.5h2M245 305.5h4M166 306.5h3M241 306.5h4M169 307.5h4M237 307.5h4M173 308.5h3M233 308.5h4M176 309.5h2M225 309.5h8M178 310.5h2M217 310.5h8M180 311.5h2M197 311.5h20M182 312.5h15" stroke="#000000" stroke-width="1" fill="none"/>
</g>
<g id="levels">
<path d="M3 42.5h18M27 42.5h18M51 42.5h18M75 42.5h18M99 42.5h18M123 42.5h18M147 42.5h18M171 42.5h18M195 42.5h18M219 42.5h18M243 42.5h18M267 42.5h18M291 42.5h18M315 42.5h18M339 42.5h18M363 42.5h18M387 42.5h18M411 42.5h18M435 42.5h18M459 42.5h18M483 42.5h18M507 42.5h18M531 42.5h18M555 42.5h18M579 42.5h18M603 42.5h18M627 42.5h18M651 42.5h18" stroke="#90ee90" stroke-width="1" fill="none"/>
<path d="M3 70.5h18M27 70.5h18M51 70.5h18M75 70.5h18M99 70.5h18M123 70.5h18M147 70.5h18M171 70.5h18M195 70.5h18M219 70.5h18M243 70.5h18M267 70.5h18M291 70.5h18M315 70.5h18M339 70.5h18M363 70.5h18M387 70.5h18M411 70.5h18M435 70.5h18M459 70.5h18M483 70.5h18M507 70.5h18M531 70.5h18M555 70.5h18M579 70.5h18M603 70.5h18M627 70.5h18M651 70.5h18" stroke="#90ee90" stroke-width="1" fill="none"/>
<path d="M3 93.5h18M27 93.5h18M51 93.5h18M75 93.5h18M99 93.5h18M123 93.5h18M147 93.5h18M171 93.5h18M195 93.5h18M219 93.5h18M243 93.5h18M267 93.5h18M291 93.5h18M315 93.5h18M339 93.5h18M363 93.5h18M387 93.5h18M411 93.5h18M435 93.5h18M459 93.5h18M483 93.5h18M507 93.5h18M531 93.5h18M555 93.5h18M579 93.5h18M603 93.5h18M627 93.5h18M651 93.5h18" stroke="#90ee90" stroke-width="1" fill="none"/>
<path d="M3 106.5h18M27 106.5h18M51 106.5h18M75 106.5h18M99 106.5h18M123 106.5h18M147 106.5h18M171 106.5h18M195 106.5h18M219 106.5h18M243 106.5h18M267 106.5h18M291 106.5h18M315 106.5h18M339 106.5h18M363 106.5h18M387 106.5h18M411 106.5h18M435 106.5h18M459 106.5h18M483 106.5h18M507 106.5h18M531 106.5h18M555 106.5h18M579 106.5h18M603 106.5h18M627 106.5h18M651 106.5h18" stroke="#90ee90" stroke-width="1" fill="none"/>
<path d="M3 134.5h18M27 134.5h18M51 134.5h18M75 134.5h18M99 134.5h18M123 134.5h18M147 134.5h18M171 134.5h18M195 134.5h18M219 134.5h18M243 134.5h18M267 134.5h18M291 134.5h18M315 134.5h18M339 134.5h18M363 134.5h18M387 134.5h18M411 134.5h18M435 134.5h18M459 134.5h18M483 134.5h18M507 134.5h18M531 134.5h18M555 134.5h18M579 134.5h18M603 134.5h18M627 134.5h18M651 134.5h18" stroke="#90ee90" stroke-width="1" fill="none"/>
<path d="M3 175.5h18M27 175.5h18M51 175.5h18M75 175.5h18M99 175.5h18M123 175.5h18M147 175.5h18M171 175.5h18M195 175.5h18M219 175.5h18M243 175.5h18M267 175.5h18M291 175.5h18M315 175.5h18M339 175.5h18M363 175.5h18M387 175.5h18M411 175.5h18M435 175.5h18M459 175.5h18M483 175.5h18M507 175.5h18M531 175.5h18M555 175.5h18M579 175.5h18M603 175.5h18M627 175.5h18M651 175.5h18" stroke="#90ee90" stroke-width="1" fill="none"/>
<path d="M3 208.5h18M27 208.5h18M51 208.5h18M75 208.5h18M99 208.5h18M123 208.5h18M147 208.5h18M171 208.5h18M195 208.5h18M219 208.5h18M243 208.5h18M267 208.5h18M291 208.5h18M315 208.5h18M339 208.5h18M363 208.5h18M387 208.5h18M411 208.5h18M435 208.5h18M459 208.5h18M483 208.5h18M507 208.5h18M531 208.5h18M555 208.5h18M579 208.5h18M603 208.5h18M627 208.5h18M651 208.5h18" stroke="#90ee90" stroke-width="1" fill="none"/>
<path d="M3 224.5h18M27 224.5h18M51 224.5h18M75 224.5h18M99 224.5h18M123 224.5h18M147 224.5h18M171 224.5h18M195 224.5h18M219 224.5h18M243 224.5h18M267 224.5h18M291 224.5h18M315 224.5h18M339 224.5h18M363 224.5h18M387 224.5h18M411 224.5h18M435 224.5h18M459 224.5h18M483 224.5h18M507 224.5h18M531 224.5h18M555 224.5h18M579 224.5h18M603 224.5h18M627 224.5h18M651 224.5h18" stroke="#90ee90" stroke-width="1" fill="none"/>
<path d="M3 237.5h18M27 237.5h18M51 237.5h18M75 237.5h18M99 237.5h18M123 237.5h18M147 237.5h18M171 237.5h18M195 237.5h18M219 237.5h18M243 237.5h18M267 237.5h18M291 237.5h18M315 237.5h18M339 237.5h18M363 237.5h18M387 237.5h18M411 237.5h18M435 237.5h18M459 237.5h18M483 237.5h18M507 237.5h18M531 237.5h18M555 237.5h18M579 237.5h18M603 237.5h18M627 237.5h18M651 237.5h18" stroke="#90ee90" stroke-width="1" fill="none"/>
<path d="M3 254.5h18M27 254.5h18M51 254.5h18M75 254.5h18M99 254.5h18M123 254.5h18M147 254.5h18M171 254.5h18M195 254.5h18M219 254.5h18M243 254.5h18M267 254.5h18M291 254.5h18M315 254.5h18M339 254.5h18M363 254.5h18M387 254.5h18M411 254.5h18M435 254.5h18M459 254.5h18M483 254.5h18M507 254.5h18M531 254.5h18M555 254.5h18M579 254.5h18M603 254.5h18M627 254.5h18M651 254.5h18" stroke="#90ee90" stroke-width="1" fill="none"/>
<path d="M3 272.5h18M27 272.5h18M51 272.5h18M75 272.5h18M99 272.5h18M123 272.5h18M147 272.5h18M171 272.5h18M195 272.5h18M219 272.5h18M243 272.5h18M267 272.5h18M291 272.5h18M315 272.5h18M339 272.5h18M363 272.5h18M387 272.5h18M411 272.5h18M435 272.5h18M459 272.5h18M483 272.5h18M507 272.5h18M531 272.5h18M555 272.5h18M579 272.5h18M603 272.5h18M627 272.5h18M651 272.5h18" stroke="#90ee90" stroke-width="1" fill="none"/>
<path d="M3 304.5h18M27 304.5h18M51 304.5h18M75 304.5h18M99 304.5h18M123 304.5h18M147 304.5h18M171 304.5h18M195 304.5h18M219 304.5h18M243 304.5h18M267 304.5h18M291 304.5h18M315 304.5h18M339 304.5h18M363 304.5h18M387 304.5h18M411 304.5h18M435 304.5h18M459 304.5h18M483 304.5h18M507 304.5h18M531 304.5h18M555 304.5h18M579 304.5h18M603 304.5h18M627 304.5h18M651 304.5h18" stroke="#90ee90" stroke-width="1" fill="none"/>
<path d="M3 332.5h18M27 332.5h18M51 332.5h18M75 332.5h18M99 332.5h18M123 332.5h18M147 332.5h18M171 332.5h18M195 332.5h18M219 332.5h18M243 332.5h18M267 332.5h18M291 332.5h18M315 332.5h18M339 332.5h18M363 332.5h18M387 332.5h18M411 332.5h18M435 332.5h18M459 332.5h18M483 332.5h18M507 332.5h18M531 332.5h18M555 332.5h18M579 332.5h18M603 332.5h18M627 332.5h18M651 332.5h18" stroke="#90ee90" stroke-width="1" fill="none"/>
<rect x="3" y="56" width="666" height="1" fill="#c0c0c0"/>
<rect x="3" y="27" width="666" height="3" fill="#008080"/>
<rect x="3" y="347" width="666" height="3" fill="#008080"/>
<rect x="506" y="69" width="106" height="3" fill="#32cd32"/>
</g>
<g id="candles" clip-path="url(#c1)">
<rect x="3" y="273" width="1" height="31" fill="#000"/>
<rect x="2" y="276" width="3" height="18" fill="#000"/>
<rect x="7" y="291" width="1" height="15" fill="#000"/>
<rect x="6" y="292" width="3" height="10" fill="#000"/>
<rect x="11" y="297" width="1" height="8" fill="#000"/>
<rect x="10.5" y="299.5" width="2" height="3" fill="#fff" stroke="#000" stroke-width="1"/>
<rect x="15" y="297" width="1" height="9" fill="#000"/>
<rect x="14" y="299" width="3" height="4" fill="#000"/>
<rect x="19" y="285" width="1" height="17" fill="#000"/>
<rect x="18.5" y="290.5" width="2" height="11" fill="#fff" stroke="#000" stroke-width="1"/>
<rect x="23" y="277" width="1" height="33" fill="#000"/>
<rect x="22" y="290" width="3" height="13" fill="#000"/>
<rect x="27" y="273" width="1" height="34" fill="#000"/>
<rect x="26.5" y="284.5" width="2" height="18" fill="#fff" stroke="#000" stroke-width="1"/>
<rect x="31" y="281" width="1" height="12" fill="#000"/>
<rect x="30" y="283" width="3" height="6" fill="#000"/>
<rect x="35" y="283" width="1" height="7" fill="#000"/>
<rect x="34.5" y="283.5" width="2" height="5" fill="#fff" stroke="#000" stroke-width="1"/>
<rect x="39" y="279" width="1" height="27" fill="#000"/>
<rect x="38" y="283" width="3" height="16" fill="#000"/>
<rect x="43" y="294" width="1" height="34" fill="#000"/>
<rect x="42" y="297" width="3" height="15" fill="#000"/>
<rect x="47" y="304" width="1" height="19" fill="#000"/>
<rect x="46" y="311" width="3" height="3" fill="#000"/>
<rect x="51" y="307" width="1" height="33" fill="#000"/>
<rect x="50" y="313" width="3" height="14" fill="#000"/>
<rect x="55" y="317" width="1" height="11" fill="#000"/>
<rect x="54.5" y="319.5" width="2" height="7" fill="#fff" stroke="#000" stroke-width="1"/>
<rect x="59" y="314" width="1" height="7" fill="#000"/>
<rect x="58.5" y="315.5" width="2" height="4" fill="#fff" stroke="#000" stroke-width="1"/>
<rect x="63" y="311" width="1" height="7" fill="#000"/>
<rect x="62" y="315" width="3" height="2" fill="#000"/>
<rect x="67" y="309" width="1" height="9" fill="#000"/>
<rect x="66.5" y="311.5" width="2" height="5" fill="#fff" stroke="#000" stroke-width="1"/>
<rect x="71" y="309" width="1" height="10" fill="#000"/>
<rect x="70" y="311" width="3" height="6" fill="#000"/>
<rect x="75" y="308" width="1" height="10" fill="#000"/>
<rect x="74.5" y="311.5" width="2" height="5" fill="#fff" stroke="#000" stroke-width="1"/>
<rect x="79" y="307" width="1" height="9" fill="#000"/>
<rect x="78.5" y="308.5" width="2" height="3" fill="#fff" stroke="#000" stroke-width="1"/>
<rect x="83" y="301" width="1" height="10" fill="#000"/>
<rect x="82.5" y="302.5" width="2" height="8" fill="#fff" stroke="#000" stroke-width="1"/>
<rect x="87" y="293" width="1" height="10" fill="#000"/>
<rect x="86.5" y="299.5" width="2" height="3" fill="#fff" stroke="#000" stroke-width="1"/>
<rect x="91" y="287" width="1" height="15" fill="#000"/>
<rect x="90.5" y="287.5" width="2" height="12" fill="#fff" stroke="#000" stroke-width="1"/>
<rect x="95" y="273" width="1" height="20" fill="#000"/>
<rect x="94" y="287" width="3" height="2" fill="#000"/>
<rect x="99" y="284" width="1" height="14" fill="#000"/>
<rect x="98" y="287" width="3" height="9" fill="#000"/>
<rect x="103" y="294" width="1" height="9" fill="#000"/>
<rect x="102" y="294" width="3" height="7" fill="#000"/>
<rect x="107" y="298" width="1" height="5" fill="#000"/>
<rect x="106" y="298" width="3" height="3" fill="#000"/>
<rect x="111" y="295" width="1" height="6" fill="#000"/>
<rect x="110.5" y="296.5" width="2" height="3" fill="#fff" stroke="#000" stroke-width="1"/>
<rect x="115" y="283" width="1" height="20" fill="#000"/>
<rect x="114.5" y="285.5" width="2" height="12" fill="#fff" stroke="#000" stroke-width="1"/>
<rect x="119" y="279" width="1" height="53" fill="#000"/>
<rect x="118" y="285" width="3" height="46" fill="#000"/>
<rect x="123" y="289" width="1" height="43" fill="#000"/>
<rect x="122.5" y="301.5" width="2" height="29" fill="#fff" stroke="#000" stroke-width="1"/>
<rect x="127" y="299" width="1" height="6" fill="#000"/>
<rect x="126" y="301" width="3" height="2" fill="#000"/>
<rect x="131" y="297" width="1" height="6" fill="#000"/>
<rect x="130.5" y="297.5" width="2" height="5" fill="#fff" stroke="#000" stroke-width="1"/>
<rect x="135" y="293" width="1" height="9" fill="#000"/>
<rect x="134" y="297" width="3" height="4" fill="#000"/>
<rect x="139" y="291" width="1" height="17" fill="#000"/>
<rect x="138" y="300" width="3" height="3" fill="#000"/>
<rect x="143" y="299" width="1" height="40" fill="#000"/>
<rect x="142" y="302" width="3" height="30" fill="#000"/>
<rect x="147" y="310" width="1" height="28" fill="#000"/>
<rect x="146.5" y="311.5" width="2" height="20" fill="#fff" stroke="#000" stroke-width="1"/>
<rect x="151" y="306" width="1" height="7" fill="#000"/>
<rect x="150" y="310" width="3" height="2" fill="#000"/>
<rect x="155" y="305" width="1" height="8" fill="#000"/>
<rect x="154.5" y="306.5" width="2" height="5" fill="#fff" stroke="#000" stroke-width="1"/>
<rect x="159" y="305" width="1" height="8" fill="#000"/>
<rect x="158" y="306" width="3" height="6" fill="#000"/>
<rect x="163" y="304" width="1" height="23" fill="#000"/>
<rect x="162" y="310" width="3" height="12" fill="#000"/>
<rect x="167" y="305" width="1" height="34" fill="#000"/>
<rect x="166" y="321" width="3" height="13" fill="#000"/>
<rect x="171" y="324" width="1" height="25" fill="#000"/>
<rect x="170" y="333" width="3" height="8" fill="#000"/>
<rect x="175" y="336" width="1" height="14" fill="#000"/>
<rect x="174" y="340" width="3" height="9" fill="#000"/>
<rect x="179" y="335" width="1" height="14" fill="#000"/>
<rect x="178.5" y="338.5" width="2" height="5" fill="#fff" stroke="#000" stroke-width="1"/>
<rect x="183" y="337" width="1" height="10" fill="#000"/>
<rect x="182" y="338" width="3" height="8" fill="#000"/>
<rect x="187" y="326" width="1" height="19" fill="#000"/>
<rect x="186.5" y="329.5" width="2" height="15" fill="#fff" stroke="#000" stroke-width="1"/>
<rect x="191" y="324" width="1" height="12" fill="#000"/>
<rect x="190.5" y="327.5" width="2" height="2" fill="#fff" stroke="#000" stroke-width="1"/>
<rect x="195" y="305" width="1" height="24" fill="#000"/>
<rect x="194.5" y="311.5" width="2" height="17" fill="#fff" stroke="#000" stroke-width="1"/>
<rect x="199" y="309" width="1" height="5" fill="#000"/>
<rect x="198" y="310" width="3" height="3" fill="#000"/>
<rect x="203" y="303" width="1" height="9" fill="#000"/>
<rect x="202.5" y="305.5" width="2" height="6" fill="#fff" stroke="#000" stroke-width="1"/>
<rect x="207" y="305" width="1" height="4" fill="#000"/>
<rect x="206" y="305" width="3" height="2" fill="#000"/>
<rect x="211" y="297" width="1" height="14" fill="#000"/>
<rect x="210" y="306" width="3" height="4" fill="#000"/>
<rect x="215" y="290" width="1" height="27" fill="#000"/>
<rect x="214.5" y="294.5" width="2" height="14" fill="#fff" stroke="#000" stroke-width="1"/>
<rect x="219" y="282" width="1" height="15" fill="#000"/>
<rect x="218.5" y="285.5" width="2" height="10" fill="#fff" stroke="#000" stroke-width="1"/>
<rect x="223" y="285" width="1" height="6" fill="#000"/>
<rect x="222" y="285" width="3" height="2" fill="#000"/>
<rect x="227" y="282" width="1" height="7" fill="#000"/>
<rect x="226" y="284" width="3" height="2" fill="#000"/>
<rect x="231" y="272" width="1" height="15" fill="#000"/>
<rect x="230.5" y="276.5" width="2" height="9" fill="#fff" stroke="#000" stroke-width="1"/>
<rect x="235" y="265" width="1" height="16" fill="#000"/>
<rect x="234.5" y="272.5" width="2" height="4" fill="#fff" stroke="#000" stroke-width="1"/>
<rect x="239" y="258" width="1" height="17" fill="#000"/>
<rect x="238.5" y="265.5" width="2" height="7" fill="#fff" stroke="#000" stroke-width="1"/>
<rect x="243" y="261" width="1" height="12" fill="#000"/>
<rect x="242" y="266" width="3" height="5" fill="#000"/>
<rect x="247" y="242" width="1" height="31" fill="#000"/>
<rect x="246.5" y="247.5" width="2" height="23" fill="#fff" stroke="#000" stroke-width="1"/>
<rect x="251" y="241" width="1" height="7" fill="#000"/>
<rect x="250.5" y="242.5" width="2" height="5" fill="#fff" stroke="#000" stroke-width="1"/>
<rect x="255" y="235" width="1" height="10" fill="#000"/>
<rect x="254.5" y="237.5" width="2" height="5" fill="#fff" stroke="#000" stroke-width="1"/>
<rect x="259" y="237" width="1" height="25" fill="#000"/>
<rect x="258" y="237" width="3" height="17" fill="#000"/>
<rect x="263" y="245" width="1" height="13" fill="#000"/>
<rect x="262.5" y="250.5" width="2" height="3" fill="#fff" stroke="#000" stroke-width="1"/>
<rect x="267" y="249" width="1" height="19" fill="#000"/>
<rect x="266" y="250" width="3" height="13" fill="#000"/>
<rect x="271" y="259" width="1" height="9" fill="#000"/>
<rect x="270" y="260" width="3" height="6" fill="#000"/>
<rect x="275" y="259" width="1" height="7" fill="#000"/>
<rect x="274.5" y="260.5" width="2" height="5" fill="#fff" stroke="#000" stroke-width="1"/>
<rect x="279" y="260" width="1" height="11" fill="#000"/>
<rect x="278" y="260" width="3" height="11" fill="#000"/>
<rect x="283" y="260" width="1" height="15" fill="#000"/>
<rect x="282.5" y="267.5" width="2" height="3" fill="#fff" stroke="#000" stroke-width="1"/>
<rect x="287" y="254" width="1" height="17" fill="#000"/>
<rect x="286.5" y="262.5" width="2" height="5" fill="#fff" stroke="#000" stroke-width="1"/>
<rect x="291" y="228" width="1" height="45" fill="#000"/>
<rect x="290.5" y="242.5" width="2" height="20" fill="#fff" stroke="#000" stroke-width="1"/>
<rect x="295" y="234" width="1" height="24" fill="#000"/>
<rect x="294" y="242" width="3" height="3" fill="#000"/>
<rect x="299" y="205" width="1" height="19" fill="#000"/>
<rect x="298" y="210" width="3" height="14" fill="#000"/>
<rect x="303" y="217" width="1" height="9" fill="#000"/>
<rect x="302" y="222" width="3" height="4" fill="#000"/>
<rect x="307" y="212" width="1" height="15" fill="#000"/>
<rect x="306" y="224" width="3" height="1" fill="#000"/>
<rect x="311" y="220" width="1" height="15" fill="#000"/>
<rect x="310" y="224" width="3" height="1" fill="#000"/>
<rect x="315" y="221" width="1" height="19" fill="#000"/>
<rect x="314" y="224" width="3" height="8" fill="#000"/>
<rect x="319" y="227" width="1" height="6" fill="#000"/>
<rect x="318.5" y="229.5" width="2" height="2" fill="#fff" stroke="#000" stroke-width="1"/>
<rect x="323" y="218" width="1" height="12" fill="#000"/>
<rect x="322.5" y="223.5" width="2" height="6" fill="#fff" stroke="#000" stroke-width="1"/>
<rect x="327" y="224" width="1" height="17" fill="#000"/>
<rect x="326" y="224" width="3" height="14" fill="#000"/>
<rect x="331" y="223" width="1" height="21" fill="#000"/>
<rect x="330.5" y="225.5" width="2" height="12" fill="#fff" stroke="#000" stroke-width="1"/>
<rect x="335" y="219" width="1" height="20" fill="#000"/>
<rect x="334" y="225" width="3" height="6" fill="#000"/>
<rect x="339" y="214" width="1" height="19" fill="#000"/>
<rect x="338.5" y="218.5" width="2" height="12" fill="#fff" stroke="#000" stroke-width="1"/>
<rect x="343" y="203" width="1" height="18" fill="#000"/>
<rect x="342.5" y="209.5" width="2" height="9" fill="#fff" stroke="#000" stroke-width="1"/>
<rect x="347" y="199" width="1" height="12" fill="#000"/>
<rect x="346.5" y="204.5" width="2" height="5" fill="#fff" stroke="#000" stroke-width="1"/>
<rect x="351" y="203" width="1" height="10" fill="#000"/>
<rect x="350" y="204" width="3" height="3" fill="#000"/>
<rect x="355" y="201" width="1" height="27" fill="#000"/>
<rect x="354" y="206" width="3" height="18" fill="#000"/>
<rect x="359" y="218" width="1" height="15" fill="#000"/>
<rect x="358" y="223" width="3" height="10" fill="#000"/>
<rect x="363" y="220" width="1" height="23" fill="#000"/>
<rect x="362" y="231" width="3" height="4" fill="#000"/>
<rect x="367" y="232" width="1" height="12" fill="#000"/>
<rect x="366" y="234" width="3" height="2" fill="#000"/>
<rect x="371" y="230" width="1" height="8" fill="#000"/>
<rect x="370" y="234" width="3" height="4" fill="#000"/>
<rect x="375" y="236" width="1" height="13" fill="#000"/>
<rect x="374" y="236" width="3" height="10" fill="#000"/>
<rect x="379" y="239" width="1" height="15" fill="#000"/>
<rect x="378" y="245" width="3" height="3" fill="#000"/>
<rect x="383" y="223" width="1" height="31" fill="#000"/>
<rect x="382.5" y="231.5" width="2" height="16" fill="#fff" stroke="#000" stroke-width="1"/>
<rect x="387" y="221" width="1" height="16" fill="#000"/>
<rect x="386.5" y="227.5" width="2" height="5" fill="#fff" stroke="#000" stroke-width="1"/>
<rect x="391" y="227" width="1" height="8" fill="#000"/>
<rect x="390" y="227" width="3" height="5" fill="#000"/>
<rect x="395" y="228" width="1" height="6" fill="#000"/>
<rect x="394" y="230" width="3" height="3" fill="#000"/>
<rect x="399" y="224" width="1" height="7" fill="#000"/>
<rect x="398.5" y="224.5" width="2" height="5" fill="#fff" stroke="#000" stroke-width="1"/>
<rect x="403" y="220" width="1" height="15" fill="#000"/>
<rect x="402" y="225" width="3" height="5" fill="#000"/>
<rect x="407" y="227" width="1" height="16" fill="#000"/>
<rect x="406" y="229" width="3" height="5" fill="#000"/>
<rect x="411" y="203" width="1" height="36" fill="#000"/>
<rect x="410.5" y="207.5" width="2" height="26" fill="#fff" stroke="#000" stroke-width="1"/>
<rect x="415" y="200" width="1" height="10" fill="#000"/>
<rect x="414.5" y="201.5" width="2" height="6" fill="#fff" stroke="#000" stroke-width="1"/>
<rect x="419" y="192" width="1" height="7" fill="#000"/>
<rect x="418" y="193" width="3" height="2" fill="#000"/>
<rect x="423" y="190" width="1" height="8" fill="#000"/>
<rect x="422" y="194" width="3" height="1" fill="#000"/>
<rect x="427" y="192" width="1" height="16" fill="#000"/>
<rect x="426" y="194" width="3" height="12" fill="#000"/>
<rect x="431" y="192" width="1" height="16" fill="#000"/>
<rect x="430.5" y="196.5" width="2" height="9" fill="#fff" stroke="#000" stroke-width="1"/>
<rect x="435" y="191" width="1" height="6" fill="#000"/>
<rect x="434.5" y="192.5" width="2" height="4" fill="#fff" stroke="#000" stroke-width="1"/>
<rect x="439" y="187" width="1" height="6" fill="#000"/>
<rect x="438.5" y="190.5" width="2" height="2" fill="#fff" stroke="#000" stroke-width="1"/>
<rect x="443" y="188" width="1" height="6" fill="#000"/>
<rect x="442" y="190" width="3" height="2" fill="#000"/>
<rect x="447" y="179" width="1" height="14" fill="#000"/>
<rect x="446.5" y="183.5" width="2" height="9" fill="#fff" stroke="#000" stroke-width="1"/>
<rect x="451" y="177" width="1" height="17" fill="#000"/>
<rect x="450.5" y="179.5" width="2" height="4" fill="#fff" stroke="#000" stroke-width="1"/>
<rect x="455" y="174" width="1" height="14" fill="#000"/>
<rect x="454" y="179" width="3" height="8" fill="#000"/>
<rect x="459" y="177" width="1" height="17" fill="#000"/>
<rect x="458" y="186" width="3" height="5" fill="#000"/>
<rect x="463" y="188" width="1" height="10" fill="#000"/>
<rect x="462" y="190" width="3" height="8" fill="#000"/>
<rect x="467" y="190" width="1" height="7" fill="#000"/>
<rect x="466.5" y="193.5" width="2" height="3" fill="#fff" stroke="#000" stroke-width="1"/>
<rect x="471" y="185" width="1" height="11" fill="#000"/>
<rect x="470.5" y="189.5" width="2" height="4" fill="#fff" stroke="#000" stroke-width="1"/>
<rect x="475" y="185" width="1" height="16" fill="#000"/>
<rect x="474" y="188" width="3" height="7" fill="#000"/>
<rect x="479" y="189" width="1" height="17" fill="#000"/>
<rect x="478" y="193" width="3" height="10" fill="#000"/>
<rect x="483" y="193" width="1" height="11" fill="#000"/>
<rect x="482" y="201" width="3" height="2" fill="#000"/>
<rect x="487" y="198" width="1" height="11" fill="#000"/>
<rect x="486" y="201" width="3" height="8" fill="#000"/>
<rect x="491" y="203" width="1" height="6" fill="#000"/>
<rect x="490.5" y="204.5" width="2" height="3" fill="#fff" stroke="#000" stroke-width="1"/>
<rect x="495" y="203" width="1" height="7" fill="#000"/>
<rect x="494" y="205" width="3" height="1" fill="#000"/>
<rect x="499" y="194" width="1" height="14" fill="#000"/>
<rect x="498.5" y="202.5" width="2" height="3" fill="#fff" stroke="#000" stroke-width="1"/>
<rect x="503" y="121" width="1" height="86" fill="#000"/>
<rect x="502.5" y="134.5" width="2" height="72" fill="#fff" stroke="#000" stroke-width="1"/>
<rect x="507" y="67" width="1" height="70" fill="#000"/>
<rect x="506.5" y="80.5" width="2" height="55" fill="#fff" stroke="#000" stroke-width="1"/>
<rect x="511" y="69" width="1" height="16" fill="#000"/>
<rect x="510.5" y="77.5" width="2" height="3" fill="#fff" stroke="#000" stroke-width="1"/>
<rect x="515" y="61" width="1" height="18" fill="#000"/>
<rect x="514.5" y="68.5" width="2" height="9" fill="#fff" stroke="#000" stroke-width="1"/>
<rect x="519" y="68" width="1" height="9" fill="#000"/>
<rect x="518" y="69" width="3" height="2" fill="#000"/>
<rect x="523" y="68" width="1" height="17" fill="#000"/>
<rect x="522" y="69" width="3" height="16" fill="#000"/>
<rect x="527" y="76" width="1" height="32" fill="#000"/>
<rect x="526" y="83" width="3" height="12" fill="#000"/>
<rect x="531" y="78" width="1" height="25" fill="#000"/>
<rect x="530.5" y="81.5" width="2" height="13" fill="#fff" stroke="#000" stroke-width="1"/>
<rect x="535" y="80" width="1" height="10" fill="#000"/>
<rect x="534" y="80" width="3" height="5" fill="#000"/>
<rect x="539" y="81" width="1" height="8" fill="#000"/>
<rect x="538.5" y="83.5" width="2" height="4" fill="#fff" stroke="#000" stroke-width="1"/>
<rect x="543" y="69" width="1" height="17" fill="#000"/>
<rect x="542.5" y="73.5" width="2" height="11" fill="#fff" stroke="#000" stroke-width="1"/>
<rect x="547" y="67" width="1" height="16" fill="#000"/>
<rect x="546" y="73" width="3" height="7" fill="#000"/>
<rect x="551" y="71" width="1" height="12" fill="#000"/>
<rect x="550" y="77" width="3" height="2" fill="#000"/>
<rect x="555" y="65" width="1" height="18" fill="#000"/>
<rect x="554.5" y="65.5" width="2" height="12" fill="#fff" stroke="#000" stroke-width="1"/>
<rect x="559" y="40" width="1" height="27" fill="#000"/>
<rect x="558.5" y="44.5" width="2" height="21" fill="#fff" stroke="#000" stroke-width="1"/>
<rect x="563" y="36" width="1" height="12" fill="#000"/>
<rect x="562.5" y="41.5" width="2" height="2" fill="#fff" stroke="#000" stroke-width="1"/>
<rect x="567" y="20" width="1" height="27" fill="#000"/>
<rect x="566.5" y="29.5" width="2" height="12" fill="#fff" stroke="#000" stroke-width="1"/>
<rect x="571" y="22" width="1" height="26" fill="#000"/>
<rect x="570" y="29" width="3" height="7" fill="#000"/>
<rect x="575" y="34" width="1" height="23" fill="#000"/>
<rect x="574" y="35" width="3" height="2" fill="#000"/>
<rect x="579" y="30" width="1" height="32" fill="#000"/>
<rect x="578" y="36" width="3" height="20" fill="#000"/>
<rect x="583" y="51" width="1" height="30" fill="#000"/>
<rect x="582" y="55" width="3" height="15" fill="#000"/>
<rect x="587" y="65" width="1" height="12" fill="#000"/>
<rect x="586" y="67" width="3" height="4" fill="#000"/>
<rect x="591" y="54" width="1" height="19" fill="#000"/>
<rect x="590.5" y="55.5" width="2" height="15" fill="#fff" stroke="#000" stroke-width="1"/>
<rect x="595" y="54" width="1" height="4" fill="#000"/>
<rect x="594" y="55" width="3" height="2" fill="#000"/>
</g>
<g id="macd">
<path d="M3.5 474V494M7.5 475V494M11.5 478V494M15.5 481V494M19.5 482V494M23.5 486V494M27.5 482V494M31.5 482V494M35.5 482V494M39.5 484V494M43.5 489V494M47.5 493V494M51.5 493V503M55.5 493V507M59.5 493V509M63.5 493V510M67.5 493V510M71.5 493V510M75.5 493V510M79.5 493V508M83.5 493V503M87.5 493V501M91.5 493V495M95.5 491V494M99.5 489V494M103.5 490V494M107.5 490V494M111.5 489V494M115.5 485V494M119.5 492V494M123.5 493V494M127.5 493V494M131.5 493V496M135.5 493V494M139.5 493V494M143.5 493V502M147.5 493V502M151.5 493V503M155.5 493V502M159.5 493V502M163.5 493V503M167.5 493V510M171.5 493V517M175.5 493V523M179.5 493V526M183.5 493V528M187.5 493V526M191.5 493V523M195.5 493V518M199.5 493V511M203.5 493V505M207.5 493V500M211.5 493V497M215.5 491V494M219.5 483V494M223.5 478V494M227.5 470V494M231.5 467V494M235.5 462V494M239.5 456V494M243.5 454V494M247.5 446V494M251.5 439V494M255.5 432V494M259.5 433V494M263.5 433V494M267.5 436V494M271.5 440V494M275.5 444V494M279.5 450V494M283.5 454V494M287.5 456V494M291.5 452V494M295.5 451V494M299.5 444V494M303.5 440V494M307.5 437V494M311.5 436V494M315.5 437V494M319.5 438V494M323.5 438V494M327.5 442V494M331.5 443V494M335.5 445V494M339.5 445V494M343.5 442V494M347.5 440V494M351.5 438V494M355.5 442V494M359.5 450V494M363.5 456V494M367.5 461V494M371.5 467V494M375.5 473V494M379.5 479V494M383.5 480V494M387.5 480V494M391.5 480V494M395.5 481V494M399.5 480V494M403.5 480V494M407.5 482V494M411.5 476V494M415.5 471V494M419.5 464V494M423.5 460V494M427.5 460V494M431.5 457V494M435.5 455V494M439.5 453V494M443.5 452V494M447.5 450V494M451.5 446V494M455.5 448V494M459.5 451V494M463.5 453V494M467.5 456V494M471.5 457V494M475.5 460V494M479.5 464V494M483.5 468V494M487.5 473V494M491.5 477V494M495.5 480V494M499.5 482V494M503.5 464V494M507.5 436V494M511.5 414V494M515.5 392V494M519.5 382V494M523.5 376V494M527.5 376V494M531.5 374V494M535.5 374V494M539.5 376V494M543.5 375V494M547.5 376V494M551.5 381V494M555.5 381V494M559.5 378V494M563.5 375V494M567.5 370V494M571.5 369V494M575.5 371V494M579.5 378V494M583.5 390V494M587.5 400V494M591.5 405V494M595.5 411V494" stroke="#c0c0c0" stroke-width="1" fill="none"/>
<path d="M435.5 465v3M36.5 479v3M477.5 451v3M217.5 508v3M511.5 460v4M523.5 430v7M21.5 472v3M295.5 445v3M241.5 474v4M536.5 392v5M579.5 373v3M54.5 487v3M451.5 453v3M221.5 503v4M381.5 455v4M149.5 494v3M264.5 444v3M515.5 451v6M107.5 497v3M171.5 502v3M236.5 481v4M363.5 443v3M245.5 468v4M446.5 457v3M519.5 441v7M385.5 460v4M260.5 448v4M183.5 511v3M430.5 469v3M492.5 461v3M442.5 460v3M294.5 444v3M240.5 475v4M419.5 475v3M232.5 487v5M431.5 468v3M213.5 512v3M256.5 453v4M321.5 439v3M539.5 386v5M336.5 438v3M491.5 460v3M228.5 494v4M592.5 380v3M114.5 492v3M530.5 407v7M103.5 499v3M267.5 441v3M252.5 459v4M453.5 452v3M593.5 381v3M531.5 404v7M527.5 417v7M543.5 380v3M233.5 485v5M99.5 501v3M49.5 484v3M535.5 394v5M248.5 464v4M513.5 456v5M438.5 463v3M152.5 495v3M8.5 469v3M415.5 477v3M450.5 454v3M514.5 453v6M145.5 492v3M369.5 446v3M220.5 504v4M167.5 499v3M518.5 444v6M4.5 470v3M178.5 508v3M189.5 515v3M399.5 474v3M487.5 457v3M244.5 470v4M509.5 463v3M215.5 510v3M525.5 423v8M79.5 505v3M522.5 433v7M313.5 444v3M239.5 477v3M60.5 492v3M283.5 438v3M12.5 469v3M72.5 501v3M391.5 467v3M392.5 468v3M403.5 476v3M235.5 482v4M259.5 450v3M395.5 471v3M479.5 452v3M101.5 500v3M498.5 466v3M227.5 495v4M63.5 494v3M526.5 420v7M581.5 374v3M75.5 503v3M505.5 466v3M542.5 381v4M56.5 489v3M231.5 489v4M192.5 516v3M184.5 512v3M533.5 398v7M384.5 459v4M212.5 513v3M251.5 460v4M365.5 444v3M537.5 390v5M546.5 377v3M174.5 504v3M538.5 388v5M483.5 454v3M475.5 450v3M494.5 462v3M285.5 439v3M520.5 439v6M266.5 442v3M97.5 502v3M247.5 466v3M521.5 436v6M436.5 464v3M425.5 472v3M262.5 446v3M534.5 396v6M448.5 455v3M549.5 375v3M304.5 446v3M387.5 463v3M242.5 473v3M33.5 478v3M421.5 474v3M25.5 474v3M398.5 473v3M234.5 484v4M591.5 379v3M136.5 489v3M583.5 375v3M219.5 506v3M517.5 447v5M594.5 382v3M258.5 451v3M59.5 491v3M70.5 499v3M311.5 445v3M238.5 478v4M214.5 511v3M71.5 500v3M230.5 491v4M379.5 453v3M52.5 486v3M528.5 413v8M105.5 498v3M93.5 504v3M319.5 440v3M497.5 465v3M380.5 454v4M147.5 493v3M532.5 401v7M529.5 410v8M211.5 514v3M361.5 442v3M444.5 458v3M250.5 462v3M545.5 378v3M417.5 476v3M124.5 489v3M51.5 485v3M540.5 384v5M423.5 473v3M222.5 502v3M246.5 467v4M120.5 490v3M541.5 382v5M29.5 476v3M165.5 498v3M394.5 470v3M512.5 458v5M218.5 507v3M516.5 449v5M66.5 496v3M47.5 483v3M237.5 479v4M175.5 505v3M375.5 450v3M40.5 480v3M261.5 447v4M176.5 506v3M524.5 426v8M273.5 438v3M443.5 459v3M352.5 439v3M432.5 467v3M544.5 379v3M257.5 452v4M508.5 464v3M77.5 504v3M378.5 452v3M389.5 465v3M253.5 457v4M371.5 447v3M318.5 441v3M585.5 376v3M401.5 475v3M225.5 498v4M291.5 442v3M111.5 494v3M249.5 463v4M439.5 462v3M62.5 493v3M488.5 458v3M88.5 506v3M382.5 457v3M589.5 378v3M216.5 509v3M356.5 440v3M95.5 503v3M374.5 449v3M547.5 376v3M396.5 472v3M359.5 441v3M31.5 477v3M23.5 473v3M287.5 440v3M224.5 499v4M16.5 470v3M68.5 498v3M388.5 464v3M91.5 505v3M177.5 507v3M243.5 471v4M186.5 513v3M484.5 455v3M495.5 463v3M324.5 438v3M110.5 495v3M263.5 445v3M170.5 501v3M434.5 466v3M163.5 497v3M510.5 462v3M27.5 475v3M19.5 471v3M255.5 455v3M45.5 482v3M64.5 495v3M383.5 458v3M140.5 490v3M181.5 510v3M490.5 459v3M271.5 439v3M108.5 496v3M223.5 501v3M405.5 477v3M568.5 374v3M376.5 451v3M460.5 450v3M207.5 516v3M316.5 442v3M297.5 446v3M67.5 497v3M289.5 441v3M576.5 373v3M187.5 514v3M143.5 491v3M116.5 491v3M390.5 466v3M269.5 440v3M486.5 456v3M587.5 377v3M428.5 470v3M456.5 451v3M440.5 461v3M254.5 456v4M372.5 448v3M496.5 464v3M172.5 503v3M226.5 497v3M292.5 443v3M112.5 493v3M81.5 506v3M315.5 443v3M265.5 443v3M74.5 502v3M447.5 456v3M55.5 488v3M500.5 467v3M386.5 462v3M481.5 453v3M507.5 465v3M229.5 492v4M367.5 445v3M179.5 509v3M168.5 500v3M160.5 496v3M58.5 490v3M427.5 471v3M209.5 515v3M503.5 467v3M43.5 481v3M393.5 469v3M577 373.5h2M569 374.5h7M577 374.5h2M580 374.5h1M550 375.5h18M569 375.5h7M580 375.5h1M582 375.5h1M548 376.5h1M550 376.5h18M582 376.5h1M584 376.5h1M548 377.5h1M584 377.5h1M586 377.5h1M586 378.5h1M588 378.5h1M588 379.5h1M590 379.5h1M590 380.5h1M595 383.5h1M595 384.5h1M274 438.5h9M325 438.5h11M272 439.5h1M274 439.5h9M284 439.5h1M322 439.5h2M325 439.5h11M337 439.5h15M270 440.5h1M272 440.5h1M284 440.5h1M286 440.5h1M320 440.5h1M322 440.5h2M337 440.5h15M353 440.5h3M268 441.5h1M270 441.5h1M286 441.5h1M288 441.5h1M320 441.5h1M353 441.5h3M357 441.5h2M268 442.5h1M288 442.5h1M290 442.5h1M317 442.5h1M357 442.5h2M360 442.5h1M290 443.5h1M317 443.5h1M360 443.5h1M362 443.5h1M293 444.5h1M314 444.5h1M362 444.5h1M364 444.5h1M293 445.5h1M312 445.5h1M314 445.5h1M364 445.5h1M366 445.5h1M296 446.5h1M305 446.5h6M312 446.5h1M366 446.5h1M368 446.5h1M296 447.5h1M298 447.5h6M305 447.5h6M368 447.5h1M370 447.5h1M298 448.5h6M370 448.5h1M373 449.5h1M373 450.5h1M461 450.5h14M457 451.5h3M461 451.5h14M476 451.5h1M377 452.5h1M454 452.5h2M457 452.5h3M476 452.5h1M478 452.5h1M377 453.5h1M452 453.5h1M454 453.5h2M478 453.5h1M480 453.5h1M452 454.5h1M480 454.5h1M482 454.5h1M449 455.5h1M482 455.5h1M449 456.5h1M485 456.5h1M485 457.5h1M445 458.5h1M445 459.5h1M489 459.5h1M489 460.5h1M441 461.5h1M441 462.5h1M493 462.5h1M493 463.5h1M437 464.5h1M437 465.5h1M506 466.5h1M433 467.5h1M499 467.5h1M504 467.5h1M506 467.5h1M433 468.5h1M499 468.5h1M501 468.5h2M504 468.5h1M9 469.5h3M501 469.5h2M5 470.5h3M9 470.5h3M13 470.5h3M429 470.5h1M3 471.5h1M5 471.5h3M13 471.5h3M17 471.5h2M429 471.5h1M3 472.5h1M17 472.5h2M20 472.5h1M426 472.5h1M20 473.5h1M22 473.5h1M397 473.5h1M424 473.5h1M426 473.5h1M22 474.5h1M24 474.5h1M397 474.5h1M422 474.5h1M424 474.5h1M24 475.5h1M26 475.5h1M400 475.5h1M420 475.5h1M422 475.5h1M26 476.5h1M28 476.5h1M400 476.5h1M402 476.5h1M418 476.5h1M420 476.5h1M28 477.5h1M30 477.5h1M402 477.5h1M404 477.5h1M416 477.5h1M418 477.5h1M30 478.5h1M32 478.5h1M404 478.5h1M406 478.5h9M416 478.5h1M32 479.5h1M34 479.5h2M406 479.5h9M34 480.5h2M37 480.5h3M37 481.5h3M41 481.5h2M41 482.5h2M44 482.5h1M44 483.5h1M46 483.5h1M46 484.5h1M48 484.5h1M48 485.5h1M50 485.5h1M50 486.5h1M53 487.5h1M53 488.5h1M125 489.5h11M57 490.5h1M121 490.5h3M125 490.5h11M137 490.5h3M57 491.5h1M117 491.5h3M121 491.5h3M137 491.5h3M141 491.5h2M115 492.5h1M117 492.5h3M141 492.5h2M144 492.5h1M61 493.5h1M113 493.5h1M115 493.5h1M144 493.5h1M146 493.5h1M61 494.5h1M113 494.5h1M146 494.5h1M148 494.5h1M148 495.5h1M150 495.5h2M65 496.5h1M109 496.5h1M150 496.5h2M153 496.5h7M65 497.5h1M109 497.5h1M153 497.5h7M161 497.5h2M106 498.5h1M161 498.5h2M164 498.5h1M69 499.5h1M104 499.5h1M106 499.5h1M164 499.5h1M166 499.5h1M69 500.5h1M102 500.5h1M104 500.5h1M166 500.5h1M100 501.5h1M102 501.5h1M169 501.5h1M73 502.5h1M98 502.5h1M100 502.5h1M169 502.5h1M73 503.5h1M96 503.5h1M98 503.5h1M76 504.5h1M94 504.5h1M96 504.5h1M173 504.5h1M76 505.5h1M78 505.5h1M92 505.5h1M94 505.5h1M173 505.5h1M78 506.5h1M80 506.5h1M89 506.5h2M92 506.5h1M80 507.5h1M82 507.5h6M89 507.5h2M82 508.5h6M180 510.5h1M180 511.5h1M182 511.5h1M182 512.5h1M185 513.5h1M185 514.5h1M188 515.5h1M210 515.5h1M188 516.5h1M190 516.5h2M208 516.5h1M210 516.5h1M190 517.5h2M193 517.5h14M208 517.5h1M193 518.5h14" stroke="#ff0000" stroke-width="1" fill="none"/>
</g>
<g id="stoch">
<path d="M282.5 630v3M199.5 622v3M275.5 600v3M483.5 647v3M505.5 653v3M505.5 659v3M171.5 662v3M590.5 627v3M510.5 599v3M510.5 605v3M372.5 670v3M9.5 618v3M105.5 584v3M489.5 677v3M356.5 574v3M108.5 596v3M167.5 644v3M203.5 586v3M504.5 665v3M368.5 652v3M170.5 656v3M390.5 661v3M583.5 585v3M278.5 612v3M469.5 599v3M193.5 664v3M198.5 628v3M365.5 634v3M586.5 603v3M468.5 593v3M582.5 579v3M300.5 608v3M509.5 611v3M509.5 617v3M391.5 655v3M415.5 596v3M461.5 563v3M514.5 569v3M471.5 611v3M589.5 621v3M44.5 642v3M84.5 634v3M579.5 567v3M202.5 598v3M118.5 626v3M192.5 670v3M196.5 646v3M201.5 604v3M499.5 695v3M11.5 630v3M414.5 602v3M270.5 576v3M172.5 668v3M361.5 604v3M585.5 597v3M419.5 572v3M292.5 644v3M588.5 615v3M508.5 623v3M508.5 629v3M91.5 604v3M464.5 575v3M10.5 624v3M86.5 628v3M507.5 635v3M47.5 654v3M418.5 578v3M488.5 671v3M367.5 646v3M191.5 676v3M360.5 592v3M484.5 653v3M584.5 591v3M393.5 649v3M591.5 633v3M94.5 592v3M512.5 587v3M195.5 652v3M587.5 609v3M109.5 602v3M294.5 638v3M32.5 648v3M89.5 616v3M506.5 647v3M417.5 584v3M470.5 605v3M200.5 610v3M200.5 616v3M366.5 640v3M204.5 580v3M279.5 618v3M90.5 610v3M363.5 616v3M194.5 658v3M362.5 610v3M13.5 642v3M369.5 658v3M416.5 590v3M359.5 586v3M12.5 636v3M511.5 593v3M97.5 580v3M5.5 600v3M274.5 594v3M14.5 648v3M95.5 586v3M303.5 596v3M233 548.5h3M229 549.5h1M239 549.5h1M449 549.5h3M228 550.5h1M240 550.5h1M227 551.5h1M241 551.5h1M445 551.5h1M455 551.5h1M256 552.5h2M428 552.5h1M444 552.5h1M456 552.5h1M522 552.5h1M565 552.5h3M255 553.5h1M261 553.5h2M429 553.5h1M443 553.5h1M456 553.5h1M520 553.5h2M263 554.5h1M424 554.5h1M429 554.5h1M560 554.5h2M223 555.5h1M244 555.5h1M423 555.5h1M526 555.5h1M559 555.5h1M571 555.5h1M211 556.5h1M215 556.5h1M221 556.5h2M245 556.5h2M423 556.5h1M527 556.5h1M572 556.5h1M211 557.5h1M216 557.5h2M252 557.5h1M440 557.5h1M459 557.5h1M518 557.5h1M528 557.5h1M553 557.5h3M573 557.5h1M210 558.5h1M250 558.5h2M264 558.5h1M433 558.5h1M439 558.5h1M459 558.5h1M518 558.5h1M265 559.5h1M433 559.5h1M438 559.5h1M460 559.5h1M517 559.5h1M549 559.5h1M265 560.5h1M422 560.5h1M434 560.5h1M548 560.5h1M422 561.5h1M530 561.5h1M547 561.5h1M576 561.5h1M209 562.5h1M421 562.5h1M530 562.5h1M576 562.5h1M208 563.5h1M516 563.5h1M531 563.5h1M577 563.5h1M208 564.5h1M266 564.5h1M515 564.5h1M267 565.5h1M515 565.5h1M542 565.5h2M267 566.5h1M421 566.5h1M541 566.5h1M420 567.5h1M535 567.5h3M207 568.5h1M420 568.5h1M206 569.5h1M462 569.5h1M206 570.5h1M268 570.5h1M353 570.5h3M463 570.5h1M268 571.5h1M350 571.5h1M463 571.5h1M269 572.5h1M350 572.5h1M349 573.5h1M580 573.5h1M99 574.5h1M206 574.5h1M580 574.5h1M99 575.5h1M205 575.5h1M514 575.5h1M581 575.5h1M98 576.5h1M205 576.5h1M513 576.5h1M348 577.5h1M513 577.5h1M102 578.5h1M347 578.5h1M103 579.5h1M347 579.5h1M103 580.5h1M357 580.5h1M357 581.5h1M465 581.5h1M513 581.5h1M271 582.5h1M358 582.5h1M465 582.5h1M513 582.5h1M271 583.5h1M346 583.5h1M466 583.5h1M512 583.5h1M272 584.5h1M345 584.5h1M345 585.5h1M466 587.5h1M272 588.5h1M309 588.5h3M467 588.5h1M273 589.5h1M315 589.5h1M344 589.5h1M467 589.5h1M106 590.5h1M273 590.5h1M306 590.5h1M316 590.5h1M343 590.5h1M107 591.5h1M306 591.5h1M317 591.5h1M343 591.5h1M107 592.5h1M203 592.5h1M305 592.5h1M202 593.5h1M3 594.5h1M202 594.5h1M3 595.5h1M321 595.5h2M340 595.5h1M4 596.5h1M323 596.5h1M340 596.5h1M339 597.5h1M93 598.5h1M327 598.5h3M360 598.5h1M92 599.5h1M360 599.5h1M92 600.5h1M333 600.5h2M361 600.5h1M335 601.5h1M302 602.5h1M302 603.5h1M301 604.5h1M6 606.5h1M276 606.5h1M6 607.5h1M276 607.5h1M7 608.5h1M110 608.5h1M277 608.5h1M413 608.5h1M110 609.5h1M413 609.5h1M111 610.5h1M412 610.5h1M7 612.5h1M8 613.5h1M8 614.5h1M112 614.5h1M299 614.5h1M412 614.5h1M113 615.5h1M299 615.5h1M411 615.5h1M113 616.5h1M298 616.5h1M411 616.5h1M472 617.5h1M473 618.5h1M473 619.5h1M115 620.5h1M139 620.5h1M298 620.5h1M410 620.5h1M116 621.5h1M140 621.5h1M298 621.5h1M410 621.5h1M88 622.5h1M116 622.5h1M138 622.5h1M140 622.5h1M297 622.5h1M363 622.5h1M409 622.5h1M88 623.5h1M138 623.5h1M364 623.5h1M474 623.5h1M87 624.5h1M137 624.5h1M280 624.5h1M364 624.5h1M474 624.5h1M281 625.5h1M475 625.5h1M142 626.5h1M281 626.5h1M297 626.5h1M408 626.5h1M142 627.5h1M297 627.5h1M407 627.5h1M136 628.5h1M143 628.5h1M296 628.5h1M364 628.5h1M407 628.5h1M135 629.5h1M364 629.5h1M476 629.5h1M135 630.5h1M365 630.5h1M476 630.5h1M477 631.5h1M121 632.5h1M144 632.5h1M163 632.5h1M296 632.5h1M403 632.5h1M122 633.5h1M144 633.5h1M163 633.5h1M296 633.5h1M401 633.5h2M123 634.5h1M133 634.5h1M145 634.5h1M164 634.5h1M198 634.5h1M295 634.5h1M133 635.5h1M197 635.5h1M478 635.5h1M36 636.5h1M40 636.5h1M132 636.5h1M160 636.5h1M197 636.5h1M283 636.5h1M479 636.5h1M35 637.5h1M41 637.5h1M160 637.5h1M284 637.5h1M398 637.5h1M479 637.5h1M35 638.5h1M42 638.5h1M124 638.5h1M146 638.5h1M159 638.5h1M165 638.5h1M284 638.5h1M398 638.5h1M125 639.5h1M147 639.5h1M165 639.5h1M397 639.5h1M592 639.5h1M82 640.5h1M125 640.5h1M130 640.5h1M147 640.5h1M166 640.5h1M197 640.5h1M592 640.5h1M81 641.5h1M130 641.5h1M197 641.5h1M480 641.5h1M507 641.5h1M593 641.5h1M34 642.5h1M81 642.5h1M129 642.5h1M157 642.5h1M196 642.5h1M285 642.5h1M481 642.5h1M506 642.5h1M34 643.5h1M157 643.5h1M285 643.5h1M395 643.5h1M481 643.5h1M506 643.5h1M33 644.5h1M126 644.5h1M148 644.5h1M156 644.5h1M286 644.5h1M395 644.5h1M78 645.5h1M127 645.5h1M149 645.5h1M394 645.5h1M594 645.5h1M76 646.5h2M127 646.5h1M149 646.5h1M594 646.5h1M595 647.5h1M45 648.5h1M154 648.5h1M287 648.5h3M45 649.5h1M72 649.5h1M153 649.5h1M46 650.5h1M71 650.5h1M150 650.5h1M153 650.5h1M168 650.5h1M70 651.5h1M150 651.5h1M168 651.5h1M151 652.5h1M169 652.5h1M15 654.5h1M30 654.5h1M15 655.5h1M30 655.5h1M67 655.5h1M16 656.5h1M29 656.5h1M67 656.5h1M66 657.5h1M485 659.5h1M17 660.5h1M27 660.5h1M48 660.5h1M485 660.5h1M17 661.5h1M27 661.5h1M49 661.5h1M64 661.5h1M486 661.5h1M18 662.5h1M26 662.5h1M49 662.5h1M64 662.5h1M63 663.5h1M370 664.5h1M370 665.5h1M486 665.5h1M19 666.5h1M25 666.5h1M51 666.5h1M371 666.5h1M487 666.5h1M20 667.5h1M24 667.5h1M51 667.5h1M61 667.5h1M389 667.5h1M487 667.5h1M21 668.5h1M24 668.5h1M52 668.5h1M60 668.5h1M389 668.5h1M60 669.5h1M388 669.5h1M504 671.5h1M54 672.5h1M56 672.5h1M503 672.5h1M55 673.5h1M388 673.5h1M503 673.5h1M173 674.5h1M387 674.5h1M173 675.5h1M387 675.5h1M174 676.5h1M373 676.5h1M374 677.5h1M503 677.5h1M374 678.5h1M503 678.5h1M386 679.5h1M502 679.5h1M174 680.5h1M386 680.5h1M175 681.5h1M385 681.5h1M175 682.5h1M190 682.5h1M376 682.5h1M190 683.5h1M376 683.5h1M490 683.5h1M502 683.5h1M189 684.5h1M377 684.5h1M491 684.5h1M501 684.5h1M384 685.5h1M491 685.5h1M501 685.5h1M176 686.5h1M384 686.5h1M177 687.5h1M383 687.5h1M177 688.5h1M188 688.5h1M379 688.5h1M187 689.5h1M379 689.5h2M492 689.5h1M501 689.5h1M187 690.5h1M492 690.5h1M500 690.5h1M493 691.5h1M500 691.5h1M179 692.5h1M180 693.5h1M181 694.5h1M185 694.5h1M184 695.5h1M494 695.5h1M184 696.5h1M495 696.5h1M495 697.5h1" stroke="#ff0000" stroke-width="1" fill="none"/>
<path d="M164.5 643v7M274.5 614v6M408.5 615v5M290.5 640v6M185.5 686v4M501.5 657v14M506.5 591v13M174.5 694v4M85.5 616v5M160.5 630v3M130.5 624v8M118.5 634v8M288.5 651v6M170.5 678v4M413.5 582v8M163.5 638v5M582.5 600v8M101.5 580v6M417.5 557v5M379.5 693v3M508.5 576v6M194.5 626v10M355.5 581v8M26.5 650v6M583.5 608v7M46.5 666v4M576.5 567v4M152.5 646v7M18.5 666v3M173.5 690v4M471.5 632v3M500.5 671v14M42.5 650v4M462.5 582v6M293.5 622v6M4.5 608v6M358.5 607v9M31.5 643v3M264.5 566v4M387.5 652v6M579.5 579v5M189.5 669v4M586.5 631v8M352.5 563v6M507.5 582v9M298.5 594v5M468.5 616v5M45.5 662v4M482.5 660v5M511.5 560v4M198.5 591v8M141.5 630v8M461.5 576v6M361.5 633v9M383.5 676v5M80.5 637v3M195.5 616v10M499.5 685v9M271.5 598v5M8.5 634v7M114.5 617v4M200.5 576v7M88.5 598v7M107.5 611v5M167.5 664v6M412.5 590v8M100.5 574v6M343.5 580v3M411.5 598v6M485.5 677v7M416.5 562v5M391.5 637v3M425.5 552v3M368.5 672v3M129.5 632v8M14.5 670v5M38.5 633v5M270.5 593v5M184.5 690v5M7.5 627v7M478.5 642v3M110.5 624v4M585.5 623v8M193.5 636v11M83.5 626v4M357.5 598v9M199.5 583v8M281.5 641v3M364.5 656v4M106.5 606v5M203.5 558v4M166.5 657v7M386.5 658v6M41.5 646v4M267.5 578v5M367.5 668v4M351.5 560v3M34.5 625v6M25.5 656v5M37.5 629v4M140.5 623v7M360.5 625v8M467.5 611v5M277.5 628v4M381.5 685v4M292.5 628v6M464.5 593v6M87.5 605v6M84.5 621v5M505.5 604v12M410.5 604v5M297.5 599v6M128.5 640v8M510.5 564v6M584.5 615v8M113.5 621v4M287.5 657v3M172.5 686v4M263.5 563v3M363.5 650v6M17.5 669v4M197.5 599v9M103.5 592v5M338.5 592v4M295.5 610v6M143.5 645v4M382.5 681v4M504.5 616v13M578.5 575v4M587.5 639v6M33.5 631v6M10.5 647v7M188.5 673v4M117.5 627v7M390.5 640v4M44.5 658v4M484.5 671v6M415.5 567v7M154.5 633v7M59.5 663v3M47.5 670v3M354.5 575v6M409.5 609v6M385.5 664v6M470.5 627v5M99.5 571v3M273.5 609v5M202.5 562v7M3.5 604v4M481.5 654v6M509.5 570v6M109.5 620v4M168.5 670v4M24.5 661v6M460.5 570v6M487.5 690v4M480.5 649v5M346.5 568v4M291.5 634v6M40.5 642v4M155.5 629v4M116.5 619v8M414.5 574v8M296.5 605v5M127.5 648v4M139.5 619v4M466.5 605v6M581.5 592v8M43.5 654v4M269.5 588v5M192.5 647v10M353.5 569v6M153.5 640v6M13.5 665v5M279.5 636v3M16.5 673v3M112.5 625v4M419.5 549v3M201.5 569v7M165.5 650v7M477.5 638v4M359.5 616v9M356.5 589v9M373.5 685v3M503.5 629v14M12.5 660v5M86.5 611v5M32.5 637v6M191.5 657v8M366.5 664v4M299.5 591v3M36.5 624v5M456.5 558v3M119.5 642v4M262.5 560v3M362.5 642v8M91.5 580v5M102.5 586v6M486.5 684v6M6.5 621v6M384.5 670v6M577.5 571v4M81.5 633v4M105.5 602v4M265.5 570v4M580.5 584v8M502.5 643v14M337.5 596v3M275.5 620v4M389.5 644v4M483.5 665v6M259.5 552v3M196.5 608v8M142.5 638v7M590.5 650v3M345.5 572v4M272.5 603v6M9.5 641v6M469.5 621v6M463.5 588v5M90.5 585v7M111.5 628v3M115.5 615v4M388.5 648v4M186.5 681v5M459.5 566v4M418.5 552v5M131.5 620v4M15.5 675v3M289.5 646v5M27.5 647v3M479.5 645v4M336.5 599v4M11.5 654v6M39.5 638v4M365.5 660v4M294.5 616v6M89.5 592v6M190.5 665v4M151.5 653v4M268.5 583v5M5.5 614v7M104.5 597v5M278.5 632v4M465.5 599v6M253.5 549v3M169.5 674v4M371.5 680v3M407.5 620v3M339.5 589v3M458.5 563v3M284.5 649v3M260.5 555v3M266.5 574v4M588.5 645v3M82.5 630v3M162.5 635v3M183.5 695v3M108.5 616v4M380.5 689v4M370.5 677v3M187.5 677v4M476.5 635v3M286.5 655v3M35.5 621v4M283.5 646v3M23.5 667v3M276.5 624v4M171.5 682v4M437.5 555v3M285.5 652v3M344.5 576v4M255 545.5h1M255 546.5h2M226 547.5h6M254 547.5h1M256 547.5h1M224 548.5h2M232 548.5h1M254 548.5h1M257 548.5h1M421 548.5h3M223 549.5h1M233 549.5h2M257 549.5h1M420 549.5h1M423 549.5h1M442 549.5h10M519 549.5h1M223 550.5h1M235 550.5h1M258 550.5h1M424 550.5h1M440 550.5h2M452 550.5h1M517 550.5h2M520 550.5h1M222 551.5h1M236 551.5h2M258 551.5h1M424 551.5h1M439 551.5h1M452 551.5h1M516 551.5h1M520 551.5h1M562 551.5h2M222 552.5h1M238 552.5h2M252 552.5h1M439 552.5h1M453 552.5h1M515 552.5h1M521 552.5h1M560 552.5h2M564 552.5h1M207 553.5h1M221 553.5h1M240 553.5h1M252 553.5h1M438 553.5h1M453 553.5h1M515 553.5h1M521 553.5h1M559 553.5h1M565 553.5h2M206 554.5h1M208 554.5h1M221 554.5h1M240 554.5h1M251 554.5h1M438 554.5h1M454 554.5h1M514 554.5h1M522 554.5h1M557 554.5h2M567 554.5h1M205 555.5h1M209 555.5h1M220 555.5h1M241 555.5h1M251 555.5h1M426 555.5h1M454 555.5h1M514 555.5h1M522 555.5h1M556 555.5h1M568 555.5h1M205 556.5h1M210 556.5h1M220 556.5h1M241 556.5h1M249 556.5h2M426 556.5h1M455 556.5h1M513 556.5h1M523 556.5h1M553 556.5h3M569 556.5h1M204 557.5h1M211 557.5h1M219 557.5h1M242 557.5h1M248 557.5h1M427 557.5h1M455 557.5h1M513 557.5h1M524 557.5h1M549 557.5h4M569 557.5h1M212 558.5h1M217 558.5h2M242 558.5h1M246 558.5h2M261 558.5h1M427 558.5h1M436 558.5h1M512 558.5h1M524 558.5h1M547 558.5h2M570 558.5h1M213 559.5h2M216 559.5h1M243 559.5h3M261 559.5h1M428 559.5h1M436 559.5h1M512 559.5h1M525 559.5h1M545 559.5h2M571 559.5h1M215 560.5h1M243 560.5h1M429 560.5h1M435 560.5h1M525 560.5h1M544 560.5h1M572 560.5h1M350 561.5h1M429 561.5h1M434 561.5h2M457 561.5h1M526 561.5h1M543 561.5h1M572 561.5h1M350 562.5h1M430 562.5h1M432 562.5h2M457 562.5h1M526 562.5h1M542 562.5h1M573 562.5h1M349 563.5h1M431 563.5h1M527 563.5h1M541 563.5h1M574 563.5h1M348 564.5h1M527 564.5h1M540 564.5h1M574 564.5h1M348 565.5h1M528 565.5h1M539 565.5h1M575 565.5h1M347 566.5h1M529 566.5h1M538 566.5h1M575 566.5h1M347 567.5h1M529 567.5h1M537 567.5h1M530 568.5h1M536 568.5h1M531 569.5h5M97 571.5h2M95 572.5h2M95 573.5h1M94 574.5h1M94 575.5h1M93 576.5h1M93 577.5h1M92 578.5h1M92 579.5h1M342 583.5h1M342 584.5h1M341 585.5h1M307 586.5h1M341 586.5h1M305 587.5h2M308 587.5h2M340 587.5h1M304 588.5h1M310 588.5h2M340 588.5h1M302 589.5h2M312 589.5h1M300 590.5h2M312 590.5h1M313 591.5h1M314 592.5h1M314 593.5h1M315 594.5h1M316 595.5h1M317 596.5h1M318 597.5h1M321 597.5h3M319 598.5h2M324 598.5h1M330 598.5h2M325 599.5h2M328 599.5h2M332 599.5h1M327 600.5h1M332 600.5h1M333 601.5h1M334 602.5h1M334 603.5h2M335 604.5h1M133 619.5h6M132 620.5h1M406 623.5h1M406 624.5h1M405 625.5h1M405 626.5h1M404 627.5h1M157 628.5h3M404 628.5h1M156 629.5h1M159 629.5h1M403 629.5h1M402 630.5h1M401 631.5h1M400 632.5h1M161 633.5h1M399 633.5h1M473 633.5h3M161 634.5h1M397 634.5h2M472 634.5h1M475 634.5h1M396 635.5h1M393 636.5h3M392 637.5h1M280 639.5h1M79 640.5h1M280 640.5h1M79 641.5h1M78 642.5h1M123 642.5h1M77 643.5h1M121 643.5h3M76 644.5h1M120 644.5h1M124 644.5h1M282 644.5h1M30 645.5h1M75 645.5h1M124 645.5h1M282 645.5h1M28 646.5h2M74 646.5h1M125 646.5h1M67 647.5h1M73 647.5h1M125 647.5h1M67 648.5h3M72 648.5h1M126 648.5h1M589 648.5h1M595 648.5h1M66 649.5h1M70 649.5h2M126 649.5h1M144 649.5h1M589 649.5h1M594 649.5h1M66 650.5h1M144 650.5h1M594 650.5h1M65 651.5h1M145 651.5h1M593 651.5h1M65 652.5h1M146 652.5h1M592 652.5h1M64 653.5h1M146 653.5h1M591 653.5h2M64 654.5h1M147 654.5h1M591 654.5h1M63 655.5h1M148 655.5h2M63 656.5h1M150 656.5h1M62 657.5h1M62 658.5h1M61 659.5h1M61 660.5h1M60 661.5h1M60 662.5h1M19 664.5h1M19 665.5h2M21 666.5h1M58 666.5h1M21 667.5h1M58 667.5h1M22 668.5h1M57 668.5h1M57 669.5h1M56 670.5h1M56 671.5h1M55 672.5h1M48 673.5h1M53 673.5h2M49 674.5h2M52 674.5h1M51 675.5h1M369 675.5h1M369 676.5h1M372 683.5h1M372 684.5h1M374 688.5h1M374 689.5h1M375 690.5h1M375 691.5h1M376 692.5h1M377 693.5h1M378 694.5h1M488 694.5h1M498 694.5h1M179 695.5h1M489 695.5h1M498 695.5h1M178 696.5h1M180 696.5h2M489 696.5h1M497 696.5h1M177 697.5h1M182 697.5h1M490 697.5h1M497 697.5h1M175 698.5h2M491 698.5h1M496 698.5h1M175 699.5h1M492 699.5h1M496 699.5h1M493 700.5h3M495 701.5h1" stroke="#20b2aa" stroke-width="1" fill="none"/>
</g>
<g id="frames">
<rect x="2" y="2" width="668" height="1" fill="#000"/>
<rect x="2" y="357" width="668" height="1" fill="#000"/>
<rect x="2" y="2" width="1" height="356" fill="#000"/>
<rect x="669" y="2" width="1" height="356" fill="#000"/>
<rect x="2" y="359" width="668" height="1" fill="#000"/>
<rect x="2" y="536" width="668" height="1" fill="#000"/>
<rect x="2" y="359" width="1" height="178" fill="#000"/>
<rect x="669" y="359" width="1" height="178" fill="#000"/>
<rect x="2" y="538" width="668" height="1" fill="#000"/>
<rect x="2" y="714" width="668" height="1" fill="#000"/>
<rect x="2" y="538" width="1" height="177" fill="#000"/>
<rect x="669" y="538" width="1" height="177" fill="#000"/>
</g>
<g id="axis">
<rect x="670" y="24" width="2" height="1" fill="#000"/>
<rect x="670" y="57" width="2" height="1" fill="#000"/>
<rect x="670" y="90" width="2" height="1" fill="#000"/>
<rect x="670" y="123" width="2" height="1" fill="#000"/>
<rect x="670" y="156" width="2" height="1" fill="#000"/>
<rect x="670" y="189" width="2" height="1" fill="#000"/>
<rect x="670" y="222" width="2" height="1" fill="#000"/>
<rect x="670" y="255" width="2" height="1" fill="#000"/>
<rect x="670" y="288" width="2" height="1" fill="#000"/>
<rect x="670" y="321" width="2" height="1" fill="#000"/>
<rect x="670" y="354" width="2" height="1" fill="#000"/>
<text x="675" y="27" fill="#000" stroke="#000" textLength="33" lengthAdjust="spacingAndGlyphs">0.93750</text>
<text x="675" y="93" fill="#000" stroke="#000" textLength="33" lengthAdjust="spacingAndGlyphs">0.93030</text>
<text x="675" y="126" fill="#000" stroke="#000" textLength="33" lengthAdjust="spacingAndGlyphs">0.92670</text>
<text x="675" y="159" fill="#000" stroke="#000" textLength="33" lengthAdjust="spacingAndGlyphs">0.92310</text>
<text x="675" y="192" fill="#000" stroke="#000" textLength="33" lengthAdjust="spacingAndGlyphs">0.91950</text>
<text x="675" y="225" fill="#000" stroke="#000" textLength="33" lengthAdjust="spacingAndGlyphs">0.91590</text>
<text x="675" y="258" fill="#000" stroke="#000" textLength="33" lengthAdjust="spacingAndGlyphs">0.91230</text>
<text x="675" y="291" fill="#000" stroke="#000" textLength="33" lengthAdjust="spacingAndGlyphs">0.90870</text>
<text x="675" y="324" fill="#000" stroke="#000" textLength="33" lengthAdjust="spacingAndGlyphs">0.90520</text>
<text x="675" y="357" fill="#000" stroke="#000" textLength="33" lengthAdjust="spacingAndGlyphs">0.90160</text>
<rect x="671" y="36" width="41" height="11" fill="#90ee90"/>
<text x="675" y="45" fill="#fff" stroke="#fff" textLength="33" lengthAdjust="spacingAndGlyphs">0.93550</text>
<rect x="671" y="64" width="41" height="11" fill="#90ee90"/>
<text x="675" y="73" fill="#fff" stroke="#fff" textLength="33" lengthAdjust="spacingAndGlyphs">0.93250</text>
<rect x="671" y="87" width="41" height="11" fill="#90ee90"/>
<text x="675" y="96" fill="#fff" stroke="#fff" textLength="33" lengthAdjust="spacingAndGlyphs">0.93000</text>
<rect x="671" y="100" width="41" height="11" fill="#90ee90"/>
<text x="675" y="109" fill="#fff" stroke="#fff" textLength="33" lengthAdjust="spacingAndGlyphs">0.92850</text>
<rect x="671" y="128" width="41" height="11" fill="#90ee90"/>
<text x="675" y="137" fill="#fff" stroke="#fff" textLength="33" lengthAdjust="spacingAndGlyphs">0.92550</text>
<rect x="671" y="169" width="41" height="11" fill="#90ee90"/>
<text x="675" y="178" fill="#fff" stroke="#fff" textLength="33" lengthAdjust="spacingAndGlyphs">0.92100</text>
<rect x="671" y="202" width="41" height="11" fill="#90ee90"/>
<text x="675" y="211" fill="#fff" stroke="#fff" textLength="33" lengthAdjust="spacingAndGlyphs">0.91750</text>
<rect x="671" y="218" width="41" height="11" fill="#90ee90"/>
<text x="675" y="227" fill="#fff" stroke="#fff" textLength="33" lengthAdjust="spacingAndGlyphs">0.91575</text>
<rect x="671" y="231" width="41" height="11" fill="#90ee90"/>
<text x="675" y="240" fill="#fff" stroke="#fff" textLength="33" lengthAdjust="spacingAndGlyphs">0.91425</text>
<rect x="671" y="248" width="41" height="11" fill="#90ee90"/>
<text x="675" y="257" fill="#fff" stroke="#fff" textLength="33" lengthAdjust="spacingAndGlyphs">0.91250</text>
<rect x="671" y="266" width="41" height="11" fill="#90ee90"/>
<text x="675" y="275" fill="#fff" stroke="#fff" textLength="33" lengthAdjust="spacingAndGlyphs">0.91050</text>
<rect x="671" y="298" width="41" height="11" fill="#90ee90"/>
<text x="675" y="307" fill="#fff" stroke="#fff" textLength="33" lengthAdjust="spacingAndGlyphs">0.90700</text>
<rect x="671" y="326" width="41" height="11" fill="#90ee90"/>
<text x="675" y="335" fill="#fff" stroke="#fff" textLength="33" lengthAdjust="spacingAndGlyphs">0.90400</text>
<rect x="671" y="22" width="41" height="11" fill="#008080"/>
<text x="675" y="31" fill="#fff" stroke="#fff" textLength="33" lengthAdjust="spacingAndGlyphs">0.93700</text>
<rect x="671" y="342" width="41" height="11" fill="#008080"/>
<text x="675" y="351" fill="#fff" stroke="#fff" textLength="33" lengthAdjust="spacingAndGlyphs">0.90225</text>
<rect x="671" y="50" width="41" height="11" fill="#000"/>
<text x="675" y="59" fill="#fff" stroke="#fff" textLength="33" lengthAdjust="spacingAndGlyphs">0.93394</text>
<rect x="670" y="360" width="2" height="1" fill="#000"/>
<rect x="670" y="493" width="2" height="1" fill="#000"/>
<rect x="670" y="535" width="2" height="1" fill="#000"/>
<text x="673" y="370" fill="#000" stroke="#000" textLength="38" lengthAdjust="spacingAndGlyphs">0.004133</text>
<text x="673" y="496" fill="#000" stroke="#000" textLength="18" lengthAdjust="spacingAndGlyphs">0.00</text>
<text x="673" y="533" fill="#000" stroke="#000" textLength="41" lengthAdjust="spacingAndGlyphs">-0.001345</text>
<rect x="670" y="539" width="2" height="1" fill="#000"/>
<rect x="670" y="713" width="2" height="1" fill="#000"/>
<text x="673" y="549" fill="#000" stroke="#000" textLength="15" lengthAdjust="spacingAndGlyphs">100</text>
<text x="672" y="577" fill="#000" stroke="#000" textLength="10" lengthAdjust="spacingAndGlyphs">80</text>
<text x="672" y="682" fill="#000" stroke="#000" textLength="10" lengthAdjust="spacingAndGlyphs">20</text>
<text x="673" y="711" fill="#000" stroke="#000" textLength="5" lengthAdjust="spacingAndGlyphs">0</text>
</g>
<g id="labels">
<rect x="5" y="5" width="216" height="11" fill="#fff"/>
<path d="M6 9h7l-3.5 4z" fill="#000" shape-rendering="auto"/>
<text x="18.5" y="14" fill="#000" stroke="#000" textLength="55" lengthAdjust="spacingAndGlyphs">USDCHF,H4</text>
<text x="79.5" y="14" fill="#000" stroke="#000" textLength="32" lengthAdjust="spacingAndGlyphs">0.93415</text>
<text x="115.5" y="14" fill="#000" stroke="#000" textLength="32" lengthAdjust="spacingAndGlyphs">0.93416</text>
<text x="151.5" y="14" fill="#000" stroke="#000" textLength="32" lengthAdjust="spacingAndGlyphs">0.93393</text>
<text x="187.5" y="14" fill="#000" stroke="#000" textLength="32" lengthAdjust="spacingAndGlyphs">0.93394</text>
<rect x="6" y="365" width="150" height="9" fill="#fff"/>
<text x="7.5" y="373" fill="#000" stroke="#000" textLength="65" lengthAdjust="spacingAndGlyphs">MACD(12,26,9)</text>
<text x="76" y="373" fill="#000" stroke="#000" textLength="38" lengthAdjust="spacingAndGlyphs">0.002596</text>
<text x="117" y="373" fill="#000" stroke="#000" textLength="38" lengthAdjust="spacingAndGlyphs">0.003384</text>
<rect x="6" y="545" width="129" height="9" fill="#fff"/>
<text x="7.5" y="552" fill="#000" stroke="#000" textLength="53.5" lengthAdjust="spacingAndGlyphs">Stoch(13,3,3)</text>
<text x="66" y="552" fill="#000" stroke="#000" textLength="32" lengthAdjust="spacingAndGlyphs">37.6791</text>
<text x="101.5" y="552" fill="#000" stroke="#000" textLength="32" lengthAdjust="spacingAndGlyphs">37.1225</text>
<text x="8" y="710" fill="#000" stroke="#000" textLength="229" lengthAdjust="spacingAndGlyphs">FxPro MT4, © 2001-2014, MetaQuotes Software Corp.</text>
</g>
<g id="time">
<rect x="3" y="715" width="1" height="3" fill="#000"/>
<text x="2" y="727" fill="#000" stroke="#000" textLength="47.5" lengthAdjust="spacingAndGlyphs">6 Aug 2014</text>
<rect x="67" y="715" width="1" height="3" fill="#000"/>
<text x="66.5" y="727" fill="#000" stroke="#000" textLength="55.5" lengthAdjust="spacingAndGlyphs">11 Aug 08:00</text>
<rect x="131" y="715" width="1" height="3" fill="#000"/>
<text x="130.5" y="727" fill="#000" stroke="#000" textLength="55.5" lengthAdjust="spacingAndGlyphs">14 Aug 00:00</text>
<rect x="195" y="715" width="1" height="3" fill="#000"/>
<text x="194.5" y="727" fill="#000" stroke="#000" textLength="55.5" lengthAdjust="spacingAndGlyphs">18 Aug 16:00</text>
<rect x="259" y="715" width="1" height="3" fill="#000"/>
<text x="258.5" y="727" fill="#000" stroke="#000" textLength="55.5" lengthAdjust="spacingAndGlyphs">21 Aug 08:00</text>
<rect x="323" y="715" width="1" height="3" fill="#000"/>
<text x="322.5" y="727" fill="#000" stroke="#000" textLength="55.5" lengthAdjust="spacingAndGlyphs">26 Aug 00:00</text>
<rect x="387" y="715" width="1" height="3" fill="#000"/>
<text x="386.5" y="727" fill="#000" stroke="#000" textLength="55.5" lengthAdjust="spacingAndGlyphs">28 Aug 16:00</text>
<rect x="451" y="715" width="1" height="3" fill="#000"/>
<text x="450.5" y="727" fill="#000" stroke="#000" textLength="50" lengthAdjust="spacingAndGlyphs">2 Sep 08:00</text>
<rect x="515" y="715" width="1" height="3" fill="#000"/>
<text x="514.5" y="727" fill="#000" stroke="#000" textLength="50" lengthAdjust="spacingAndGlyphs">5 Sep 00:00</text>
<rect x="579" y="715" width="1" height="3" fill="#000"/>
<text x="578.5" y="727" fill="#000" stroke="#000" textLength="50" lengthAdjust="spacingAndGlyphs">9 Sep 16:00</text>
</g>
</svg></body></html>
